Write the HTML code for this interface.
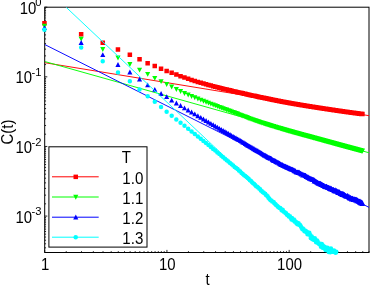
<!DOCTYPE html>
<html><head><meta charset="utf-8"><title>C(t)</title>
<style>html,body{margin:0;padding:0;background:#fff;overflow:hidden}body{width:382px;height:289px;position:relative;font-family:"Liberation Sans",sans-serif}</style>
</head><body>
<svg width="382" height="289" viewBox="0 0 382 289" style="position:absolute;left:0;top:0;will-change:transform">
<rect width="382" height="289" fill="#fff"/>
<rect x="44.7" y="7.2" width="324.3" height="245.3" fill="none" stroke="#000" stroke-width="1"/>
<path d="M44.70 252.5v-2.6M66.22 252.5v-1.35M81.49 252.5v-1.35M93.34 252.5v-1.35M103.02 252.5v-1.35M111.20 252.5v-1.35M118.29 252.5v-1.35M124.54 252.5v-1.35M130.13 252.5v-1.35M135.19 252.5v-1.35M139.81 252.5v-1.35M144.06 252.5v-1.35M148.00 252.5v-1.35M151.66 252.5v-1.35M155.08 252.5v-1.35M158.30 252.5v-1.35M161.34 252.5v-1.35M164.21 252.5v-1.35M166.93 252.5v-2.6M188.45 252.5v-1.35M203.72 252.5v-1.35M215.57 252.5v-1.35M225.25 252.5v-1.35M233.43 252.5v-1.35M240.52 252.5v-1.35M246.77 252.5v-1.35M252.36 252.5v-1.35M257.42 252.5v-1.35M262.04 252.5v-1.35M266.29 252.5v-1.35M270.22 252.5v-1.35M273.89 252.5v-1.35M277.31 252.5v-1.35M280.53 252.5v-1.35M283.57 252.5v-1.35M286.44 252.5v-1.35M289.16 252.5v-2.6M310.68 252.5v-1.35M325.95 252.5v-1.35M337.80 252.5v-1.35M347.48 252.5v-1.35M355.66 252.5v-1.35M362.75 252.5v-1.35M369.00 252.5v-1.35M44.7 7.20h2.6M44.7 8.75h1.35M44.7 10.39h1.35M44.7 12.11h1.35M44.7 13.95h1.35M44.7 15.90h1.35M44.7 17.99h1.35M44.7 20.23h1.35M44.7 22.65h1.35M44.7 25.28h1.35M44.7 28.16h1.35M44.7 31.35h1.35M44.7 34.91h1.35M44.7 38.95h1.35M44.7 43.61h1.35M44.7 49.12h1.35M44.7 55.87h1.35M44.7 64.57h1.35M44.7 76.83h2.6M44.7 78.38h1.35M44.7 80.02h1.35M44.7 81.75h1.35M44.7 83.58h1.35M44.7 85.53h1.35M44.7 87.62h1.35M44.7 89.86h1.35M44.7 92.28h1.35M44.7 94.91h1.35M44.7 97.79h1.35M44.7 100.98h1.35M44.7 104.54h1.35M44.7 108.58h1.35M44.7 113.24h1.35M44.7 118.75h1.35M44.7 125.50h1.35M44.7 134.20h1.35M44.7 146.46h2.6M44.7 148.01h1.35M44.7 149.65h1.35M44.7 151.38h1.35M44.7 153.21h1.35M44.7 155.16h1.35M44.7 157.25h1.35M44.7 159.49h1.35M44.7 161.91h1.35M44.7 164.54h1.35M44.7 167.42h1.35M44.7 170.61h1.35M44.7 174.17h1.35M44.7 178.21h1.35M44.7 182.87h1.35M44.7 188.38h1.35M44.7 195.13h1.35M44.7 203.83h1.35M44.7 216.09h2.6M44.7 217.64h1.35M44.7 219.28h1.35M44.7 221.01h1.35M44.7 222.84h1.35M44.7 224.79h1.35M44.7 226.88h1.35M44.7 229.12h1.35M44.7 231.54h1.35M44.7 234.17h1.35M44.7 237.05h1.35M44.7 240.24h1.35M44.7 243.80h1.35M44.7 247.84h1.35" stroke="#000" stroke-width="0.85" fill="none"/>
<clipPath id="c"><rect x="44.7" y="7.2" width="324.3" height="245.3"/></clipPath>
<path d="M42.2 20.9h4.5v4.5h-4.5zM78.9 31.9h4.5v4.5h-4.5zM100.5 40.4h4.5v4.5h-4.5zM115.7 47.2h4.5v4.5h-4.5zM127.6 52.4h4.5v4.5h-4.5zM137.3 57.1h4.5v4.5h-4.5zM145.4 61.0h4.5v4.5h-4.5zM152.5 63.8h4.5v4.5h-4.5zM158.8 66.6h4.5v4.5h-4.5zM164.4 68.8h4.5v4.5h-4.5zM169.4 70.6h4.5v4.5h-4.5zM174.1 72.3h4.5v4.5h-4.5zM178.3 73.9h4.5v4.5h-4.5zM182.2 75.3h4.5v4.5h-4.5zM185.9 76.6h4.5v4.5h-4.5zM189.3 77.7h4.5v4.5h-4.5zM192.5 78.7h4.5v4.5h-4.5zM195.6 79.7h4.5v4.5h-4.5zM198.5 80.5h4.5v4.5h-4.5zM201.2 81.3h4.5v4.5h-4.5zM203.8 82.0h4.5v4.5h-4.5zM206.2 82.7h4.5v4.5h-4.5zM208.6 83.3h4.5v4.5h-4.5zM210.9 83.9h4.5v4.5h-4.5zM213.0 84.5h4.5v4.5h-4.5zM215.1 85.0h4.5v4.5h-4.5zM217.1 85.5h4.5v4.5h-4.5zM219.0 86.0h4.5v4.5h-4.5zM220.9 86.5h4.5v4.5h-4.5zM222.7 86.9h4.5v4.5h-4.5zM224.4 87.3h4.5v4.5h-4.5zM226.1 87.7h4.5v4.5h-4.5zM227.8 88.1h4.5v4.5h-4.5zM229.3 88.5h4.5v4.5h-4.5zM230.9 88.9h4.5v4.5h-4.5zM232.4 89.2h4.5v4.5h-4.5zM233.8 89.6h4.5v4.5h-4.5zM235.2 89.9h4.5v4.5h-4.5zM236.6 90.2h4.5v4.5h-4.5zM238.0 90.5h4.5v4.5h-4.5zM239.3 90.8h4.5v4.5h-4.5zM240.6 91.1h4.5v4.5h-4.5zM241.8 91.4h4.5v4.5h-4.5zM243.0 91.6h4.5v4.5h-4.5zM244.2 91.9h4.5v4.5h-4.5zM245.4 92.2h4.5v4.5h-4.5zM246.5 92.4h4.5v4.5h-4.5zM247.6 92.7h4.5v4.5h-4.5zM248.7 92.9h4.5v4.5h-4.5zM249.8 93.2h4.5v4.5h-4.5zM250.9 93.4h4.5v4.5h-4.5zM251.9 93.6h4.5v4.5h-4.5zM252.9 93.8h4.5v4.5h-4.5zM253.9 94.0h4.5v4.5h-4.5zM254.9 94.3h4.5v4.5h-4.5zM255.8 94.5h4.5v4.5h-4.5zM256.8 94.7h4.5v4.5h-4.5zM257.7 94.9h4.5v4.5h-4.5zM258.6 95.1h4.5v4.5h-4.5zM259.5 95.2h4.5v4.5h-4.5zM260.4 95.4h4.5v4.5h-4.5zM261.2 95.6h4.5v4.5h-4.5zM262.1 95.8h4.5v4.5h-4.5zM262.9 96.0h4.5v4.5h-4.5zM263.7 96.1h4.5v4.5h-4.5zM264.6 96.3h4.5v4.5h-4.5zM265.3 96.5h4.5v4.5h-4.5zM266.1 96.6h4.5v4.5h-4.5zM266.9 96.8h4.5v4.5h-4.5zM267.7 97.0h4.5v4.5h-4.5zM268.4 97.1h4.5v4.5h-4.5zM269.2 97.3h4.5v4.5h-4.5zM269.9 97.4h4.5v4.5h-4.5zM270.6 97.6h4.5v4.5h-4.5zM271.3 97.7h4.5v4.5h-4.5zM272.0 97.8h4.5v4.5h-4.5zM272.7 98.0h4.5v4.5h-4.5zM273.4 98.1h4.5v4.5h-4.5zM274.1 98.2h4.5v4.5h-4.5zM274.8 98.4h4.5v4.5h-4.5zM275.4 98.5h4.5v4.5h-4.5zM276.1 98.6h4.5v4.5h-4.5zM276.7 98.8h4.5v4.5h-4.5zM277.4 98.9h4.5v4.5h-4.5zM278.0 99.0h4.5v4.5h-4.5zM278.6 99.1h4.5v4.5h-4.5zM279.2 99.2h4.5v4.5h-4.5zM279.8 99.4h4.5v4.5h-4.5zM280.4 99.5h4.5v4.5h-4.5zM281.0 99.6h4.5v4.5h-4.5zM281.6 99.7h4.5v4.5h-4.5zM282.2 99.8h4.5v4.5h-4.5zM282.8 99.9h4.5v4.5h-4.5zM283.3 100.0h4.5v4.5h-4.5zM283.9 100.1h4.5v4.5h-4.5zM284.4 100.2h4.5v4.5h-4.5zM285.0 100.3h4.5v4.5h-4.5zM285.5 100.4h4.5v4.5h-4.5zM286.1 100.5h4.5v4.5h-4.5zM286.6 100.6h4.5v4.5h-4.5zM287.1 100.7h4.5v4.5h-4.5zM287.7 100.8h4.5v4.5h-4.5zM288.2 100.9h4.5v4.5h-4.5zM288.7 101.0h4.5v4.5h-4.5zM289.2 101.1h4.5v4.5h-4.5zM289.7 101.2h4.5v4.5h-4.5zM290.2 101.2h4.5v4.5h-4.5zM290.7 101.3h4.5v4.5h-4.5zM291.2 101.4h4.5v4.5h-4.5zM291.7 101.5h4.5v4.5h-4.5zM292.1 101.6h4.5v4.5h-4.5zM292.6 101.7h4.5v4.5h-4.5zM293.1 101.8h4.5v4.5h-4.5zM293.6 101.8h4.5v4.5h-4.5zM294.0 101.9h4.5v4.5h-4.5zM294.5 102.0h4.5v4.5h-4.5zM294.9 102.1h4.5v4.5h-4.5zM295.4 102.1h4.5v4.5h-4.5zM295.8 102.2h4.5v4.5h-4.5zM296.3 102.3h4.5v4.5h-4.5zM296.7 102.4h4.5v4.5h-4.5zM297.2 102.4h4.5v4.5h-4.5zM297.6 102.5h4.5v4.5h-4.5zM298.0 102.6h4.5v4.5h-4.5zM298.5 102.7h4.5v4.5h-4.5zM298.9 102.7h4.5v4.5h-4.5zM299.3 102.8h4.5v4.5h-4.5zM299.7 102.9h4.5v4.5h-4.5zM300.1 102.9h4.5v4.5h-4.5zM300.5 103.0h4.5v4.5h-4.5zM300.9 103.1h4.5v4.5h-4.5zM301.3 103.1h4.5v4.5h-4.5zM301.7 103.2h4.5v4.5h-4.5zM302.1 103.3h4.5v4.5h-4.5zM302.5 103.3h4.5v4.5h-4.5zM302.9 103.4h4.5v4.5h-4.5zM303.3 103.5h4.5v4.5h-4.5zM303.7 103.5h4.5v4.5h-4.5zM304.1 103.6h4.5v4.5h-4.5zM304.5 103.7h4.5v4.5h-4.5zM304.8 103.7h4.5v4.5h-4.5zM305.2 103.8h4.5v4.5h-4.5zM305.6 103.8h4.5v4.5h-4.5zM306.0 103.9h4.5v4.5h-4.5zM306.3 104.0h4.5v4.5h-4.5zM306.7 104.0h4.5v4.5h-4.5zM307.1 104.1h4.5v4.5h-4.5zM307.4 104.1h4.5v4.5h-4.5zM307.8 104.2h4.5v4.5h-4.5zM308.1 104.2h4.5v4.5h-4.5zM308.5 104.3h4.5v4.5h-4.5zM308.8 104.4h4.5v4.5h-4.5zM309.2 104.4h4.5v4.5h-4.5zM309.5 104.5h4.5v4.5h-4.5zM309.9 104.5h4.5v4.5h-4.5zM310.2 104.6h4.5v4.5h-4.5zM310.6 104.6h4.5v4.5h-4.5zM310.9 104.7h4.5v4.5h-4.5zM311.2 104.7h4.5v4.5h-4.5zM311.6 104.8h4.5v4.5h-4.5zM311.9 104.8h4.5v4.5h-4.5zM312.2 104.9h4.5v4.5h-4.5zM312.5 104.9h4.5v4.5h-4.5zM312.9 105.0h4.5v4.5h-4.5zM313.2 105.0h4.5v4.5h-4.5zM313.5 105.1h4.5v4.5h-4.5zM313.8 105.1h4.5v4.5h-4.5zM314.1 105.2h4.5v4.5h-4.5zM314.5 105.2h4.5v4.5h-4.5zM314.8 105.3h4.5v4.5h-4.5zM315.1 105.3h4.5v4.5h-4.5zM315.4 105.4h4.5v4.5h-4.5zM315.7 105.4h4.5v4.5h-4.5zM316.0 105.5h4.5v4.5h-4.5zM316.3 105.5h4.5v4.5h-4.5zM316.6 105.6h4.5v4.5h-4.5zM316.9 105.6h4.5v4.5h-4.5zM317.2 105.7h4.5v4.5h-4.5zM317.5 105.7h4.5v4.5h-4.5zM317.8 105.8h4.5v4.5h-4.5zM318.1 105.8h4.5v4.5h-4.5zM318.4 105.8h4.5v4.5h-4.5zM318.7 105.9h4.5v4.5h-4.5zM319.0 105.9h4.5v4.5h-4.5zM319.3 106.0h4.5v4.5h-4.5zM319.6 106.0h4.5v4.5h-4.5zM319.8 106.1h4.5v4.5h-4.5zM320.1 106.1h4.5v4.5h-4.5zM320.4 106.2h4.5v4.5h-4.5zM320.7 106.2h4.5v4.5h-4.5zM321.0 106.2h4.5v4.5h-4.5zM321.2 106.3h4.5v4.5h-4.5zM321.5 106.3h4.5v4.5h-4.5zM321.8 106.4h4.5v4.5h-4.5zM322.1 106.4h4.5v4.5h-4.5zM322.3 106.4h4.5v4.5h-4.5zM322.6 106.5h4.5v4.5h-4.5zM322.9 106.5h4.5v4.5h-4.5zM323.1 106.6h4.5v4.5h-4.5zM323.4 106.6h4.5v4.5h-4.5zM323.7 106.6h4.5v4.5h-4.5zM323.9 106.7h4.5v4.5h-4.5zM324.2 106.7h4.5v4.5h-4.5zM324.5 106.8h4.5v4.5h-4.5zM324.7 106.8h4.5v4.5h-4.5zM325.0 106.8h4.5v4.5h-4.5zM325.2 106.9h4.5v4.5h-4.5zM325.5 106.9h4.5v4.5h-4.5zM325.7 107.0h4.5v4.5h-4.5zM326.0 107.0h4.5v4.5h-4.5zM326.2 107.0h4.5v4.5h-4.5zM326.5 107.1h4.5v4.5h-4.5zM326.7 107.1h4.5v4.5h-4.5zM327.0 107.1h4.5v4.5h-4.5zM327.2 107.2h4.5v4.5h-4.5zM327.5 107.2h4.5v4.5h-4.5zM327.7 107.3h4.5v4.5h-4.5zM328.0 107.3h4.5v4.5h-4.5zM328.2 107.3h4.5v4.5h-4.5zM328.5 107.4h4.5v4.5h-4.5zM328.7 107.4h4.5v4.5h-4.5zM328.9 107.4h4.5v4.5h-4.5zM329.2 107.5h4.5v4.5h-4.5zM329.4 107.5h4.5v4.5h-4.5zM329.7 107.5h4.5v4.5h-4.5zM329.9 107.6h4.5v4.5h-4.5zM330.1 107.6h4.5v4.5h-4.5zM330.4 107.6h4.5v4.5h-4.5zM330.6 107.7h4.5v4.5h-4.5zM330.8 107.7h4.5v4.5h-4.5zM331.1 107.8h4.5v4.5h-4.5zM331.3 107.8h4.5v4.5h-4.5zM331.5 107.8h4.5v4.5h-4.5zM331.7 107.9h4.5v4.5h-4.5zM332.0 107.9h4.5v4.5h-4.5zM332.2 107.9h4.5v4.5h-4.5zM332.4 108.0h4.5v4.5h-4.5zM332.6 108.0h4.5v4.5h-4.5zM332.9 108.0h4.5v4.5h-4.5zM333.1 108.1h4.5v4.5h-4.5zM333.3 108.1h4.5v4.5h-4.5zM333.5 108.1h4.5v4.5h-4.5zM333.7 108.1h4.5v4.5h-4.5zM334.0 108.2h4.5v4.5h-4.5zM334.2 108.2h4.5v4.5h-4.5zM334.4 108.2h4.5v4.5h-4.5zM334.6 108.3h4.5v4.5h-4.5zM334.8 108.3h4.5v4.5h-4.5zM335.0 108.3h4.5v4.5h-4.5zM335.2 108.4h4.5v4.5h-4.5zM335.5 108.4h4.5v4.5h-4.5zM335.7 108.4h4.5v4.5h-4.5zM335.9 108.5h4.5v4.5h-4.5zM336.1 108.5h4.5v4.5h-4.5zM336.3 108.5h4.5v4.5h-4.5zM336.5 108.6h4.5v4.5h-4.5zM336.7 108.6h4.5v4.5h-4.5zM336.9 108.6h4.5v4.5h-4.5zM337.1 108.6h4.5v4.5h-4.5zM337.3 108.7h4.5v4.5h-4.5zM337.5 108.7h4.5v4.5h-4.5zM337.7 108.7h4.5v4.5h-4.5zM337.9 108.8h4.5v4.5h-4.5zM338.1 108.8h4.5v4.5h-4.5zM338.3 108.8h4.5v4.5h-4.5zM338.5 108.8h4.5v4.5h-4.5zM338.7 108.9h4.5v4.5h-4.5zM338.9 108.9h4.5v4.5h-4.5zM339.1 108.9h4.5v4.5h-4.5zM339.3 109.0h4.5v4.5h-4.5zM339.5 109.0h4.5v4.5h-4.5zM339.7 109.0h4.5v4.5h-4.5zM339.9 109.0h4.5v4.5h-4.5zM340.1 109.1h4.5v4.5h-4.5zM340.3 109.1h4.5v4.5h-4.5zM340.5 109.1h4.5v4.5h-4.5zM340.7 109.2h4.5v4.5h-4.5zM340.9 109.2h4.5v4.5h-4.5zM341.1 109.2h4.5v4.5h-4.5zM341.3 109.2h4.5v4.5h-4.5zM341.5 109.3h4.5v4.5h-4.5zM341.6 109.3h4.5v4.5h-4.5zM341.8 109.3h4.5v4.5h-4.5zM342.0 109.3h4.5v4.5h-4.5zM342.2 109.4h4.5v4.5h-4.5zM342.4 109.4h4.5v4.5h-4.5zM342.6 109.4h4.5v4.5h-4.5zM342.8 109.4h4.5v4.5h-4.5zM342.9 109.5h4.5v4.5h-4.5zM343.1 109.5h4.5v4.5h-4.5zM343.3 109.5h4.5v4.5h-4.5zM343.5 109.5h4.5v4.5h-4.5zM343.7 109.6h4.5v4.5h-4.5zM343.9 109.6h4.5v4.5h-4.5zM344.0 109.6h4.5v4.5h-4.5zM344.2 109.7h4.5v4.5h-4.5zM344.4 109.7h4.5v4.5h-4.5zM344.6 109.7h4.5v4.5h-4.5zM344.7 109.7h4.5v4.5h-4.5zM344.9 109.8h4.5v4.5h-4.5zM345.1 109.8h4.5v4.5h-4.5zM345.3 109.8h4.5v4.5h-4.5zM345.5 109.8h4.5v4.5h-4.5zM345.6 109.8h4.5v4.5h-4.5zM345.8 109.9h4.5v4.5h-4.5zM346.0 109.9h4.5v4.5h-4.5zM346.2 109.9h4.5v4.5h-4.5zM346.3 109.9h4.5v4.5h-4.5zM346.5 110.0h4.5v4.5h-4.5zM346.7 110.0h4.5v4.5h-4.5zM346.8 110.0h4.5v4.5h-4.5zM347.0 110.0h4.5v4.5h-4.5zM347.2 110.1h4.5v4.5h-4.5zM347.3 110.1h4.5v4.5h-4.5zM347.5 110.1h4.5v4.5h-4.5zM347.7 110.1h4.5v4.5h-4.5zM347.9 110.2h4.5v4.5h-4.5zM348.0 110.2h4.5v4.5h-4.5zM348.2 110.2h4.5v4.5h-4.5zM348.4 110.2h4.5v4.5h-4.5zM348.5 110.2h4.5v4.5h-4.5zM348.7 110.3h4.5v4.5h-4.5zM348.8 110.3h4.5v4.5h-4.5zM349.0 110.3h4.5v4.5h-4.5zM349.2 110.3h4.5v4.5h-4.5zM349.3 110.4h4.5v4.5h-4.5zM349.5 110.4h4.5v4.5h-4.5zM349.7 110.4h4.5v4.5h-4.5zM349.8 110.4h4.5v4.5h-4.5zM350.0 110.4h4.5v4.5h-4.5zM350.1 110.5h4.5v4.5h-4.5zM350.3 110.5h4.5v4.5h-4.5zM350.5 110.5h4.5v4.5h-4.5zM350.6 110.5h4.5v4.5h-4.5zM350.8 110.6h4.5v4.5h-4.5zM350.9 110.6h4.5v4.5h-4.5zM351.1 110.6h4.5v4.5h-4.5zM351.3 110.6h4.5v4.5h-4.5zM351.4 110.6h4.5v4.5h-4.5zM351.6 110.7h4.5v4.5h-4.5zM351.7 110.7h4.5v4.5h-4.5zM351.9 110.7h4.5v4.5h-4.5zM352.0 110.7h4.5v4.5h-4.5zM352.2 110.7h4.5v4.5h-4.5zM352.3 110.8h4.5v4.5h-4.5zM352.5 110.8h4.5v4.5h-4.5zM352.7 110.8h4.5v4.5h-4.5zM352.8 110.8h4.5v4.5h-4.5zM353.0 110.8h4.5v4.5h-4.5zM353.1 110.9h4.5v4.5h-4.5zM353.3 110.9h4.5v4.5h-4.5zM353.4 110.9h4.5v4.5h-4.5zM353.6 110.9h4.5v4.5h-4.5zM353.7 110.9h4.5v4.5h-4.5zM353.9 111.0h4.5v4.5h-4.5zM354.0 111.0h4.5v4.5h-4.5zM354.2 111.0h4.5v4.5h-4.5zM354.3 111.0h4.5v4.5h-4.5zM354.5 111.0h4.5v4.5h-4.5zM354.6 111.1h4.5v4.5h-4.5zM354.8 111.1h4.5v4.5h-4.5zM354.9 111.1h4.5v4.5h-4.5zM355.0 111.1h4.5v4.5h-4.5zM355.2 111.1h4.5v4.5h-4.5zM355.3 111.2h4.5v4.5h-4.5zM355.5 111.2h4.5v4.5h-4.5zM355.6 111.2h4.5v4.5h-4.5zM355.8 111.2h4.5v4.5h-4.5zM355.9 111.2h4.5v4.5h-4.5zM356.1 111.3h4.5v4.5h-4.5zM356.2 111.3h4.5v4.5h-4.5zM356.3 111.3h4.5v4.5h-4.5zM356.5 111.3h4.5v4.5h-4.5zM356.6 111.3h4.5v4.5h-4.5zM356.8 111.4h4.5v4.5h-4.5zM356.9 111.4h4.5v4.5h-4.5zM357.1 111.4h4.5v4.5h-4.5zM357.2 111.4h4.5v4.5h-4.5zM357.3 111.4h4.5v4.5h-4.5zM357.5 111.4h4.5v4.5h-4.5zM357.6 111.5h4.5v4.5h-4.5zM357.8 111.5h4.5v4.5h-4.5zM357.9 111.5h4.5v4.5h-4.5zM358.0 111.5h4.5v4.5h-4.5zM358.2 111.5h4.5v4.5h-4.5zM358.3 111.6h4.5v4.5h-4.5zM358.4 111.6h4.5v4.5h-4.5zM358.6 111.6h4.5v4.5h-4.5zM358.7 111.6h4.5v4.5h-4.5zM358.9 111.6h4.5v4.5h-4.5zM359.0 111.6h4.5v4.5h-4.5zM359.1 111.7h4.5v4.5h-4.5zM359.3 111.7h4.5v4.5h-4.5zM359.4 111.7h4.5v4.5h-4.5zM359.5 111.7h4.5v4.5h-4.5zM359.7 111.7h4.5v4.5h-4.5zM359.8 111.8h4.5v4.5h-4.5zM359.9 111.8h4.5v4.5h-4.5zM360.1 111.8h4.5v4.5h-4.5zM360.2 111.8h4.5v4.5h-4.5z" fill="#ff0000"/>
<path clip-path="url(#c)" d="M44.7 62.7L369.1 115.7" stroke="#ff0000" stroke-width="0.95" fill="none"/>
<path d="M41.9 23.8h5.1l-2.5 4.9zM78.6 36.7h5.1l-2.5 4.9zM100.2 47.1h5.1l-2.5 4.9zM115.4 55.5h5.1l-2.5 4.9zM127.3 62.1h5.1l-2.5 4.9zM137.0 67.7h5.1l-2.5 4.9zM145.1 71.9h5.1l-2.5 4.9zM152.2 75.9h5.1l-2.5 4.9zM158.5 79.2h5.1l-2.5 4.9zM164.1 82.1h5.1l-2.5 4.9zM169.1 84.6h5.1l-2.5 4.9zM173.8 87.0h5.1l-2.5 4.9zM178.0 89.1h5.1l-2.5 4.9zM181.9 91.0h5.1l-2.5 4.9zM185.6 92.6h5.1l-2.5 4.9zM189.0 94.0h5.1l-2.5 4.9zM192.2 95.3h5.1l-2.5 4.9zM195.3 96.6h5.1l-2.5 4.9zM198.2 97.7h5.1l-2.5 4.9zM200.9 98.8h5.1l-2.5 4.9zM203.5 99.8h5.1l-2.5 4.9zM205.9 100.7h5.1l-2.5 4.9zM208.3 101.7h5.1l-2.5 4.9zM210.6 102.5h5.1l-2.5 4.9zM212.7 103.3h5.1l-2.5 4.9zM214.8 104.1h5.1l-2.5 4.9zM216.8 104.9h5.1l-2.5 4.9zM218.7 105.6h5.1l-2.5 4.9zM220.6 106.3h5.1l-2.5 4.9zM222.4 106.9h5.1l-2.5 4.9zM224.1 107.6h5.1l-2.5 4.9zM225.8 108.2h5.1l-2.5 4.9zM227.5 108.8h5.1l-2.5 4.9zM229.0 109.4h5.1l-2.5 4.9zM230.6 110.0h5.1l-2.5 4.9zM232.1 110.5h5.1l-2.5 4.9zM233.5 111.1h5.1l-2.5 4.9zM234.9 111.6h5.1l-2.5 4.9zM236.3 112.2h5.1l-2.5 4.9zM237.7 112.7h5.1l-2.5 4.9zM239.0 113.2h5.1l-2.5 4.9zM240.3 113.7h5.1l-2.5 4.9zM241.5 114.2h5.1l-2.5 4.9zM242.7 114.6h5.1l-2.5 4.9zM243.9 115.1h5.1l-2.5 4.9zM245.1 115.5h5.1l-2.5 4.9zM246.2 116.0h5.1l-2.5 4.9zM247.3 116.4h5.1l-2.5 4.9zM248.4 116.8h5.1l-2.5 4.9zM249.5 117.2h5.1l-2.5 4.9zM250.6 117.5h5.1l-2.5 4.9zM251.6 117.9h5.1l-2.5 4.9zM252.6 118.3h5.1l-2.5 4.9zM253.6 118.6h5.1l-2.5 4.9zM254.6 118.9h5.1l-2.5 4.9zM255.5 119.3h5.1l-2.5 4.9zM256.5 119.6h5.1l-2.5 4.9zM257.4 119.9h5.1l-2.5 4.9zM258.3 120.2h5.1l-2.5 4.9zM259.2 120.5h5.1l-2.5 4.9zM260.1 120.7h5.1l-2.5 4.9zM260.9 121.0h5.1l-2.5 4.9zM261.8 121.3h5.1l-2.5 4.9zM262.6 121.6h5.1l-2.5 4.9zM263.4 121.8h5.1l-2.5 4.9zM264.3 122.1h5.1l-2.5 4.9zM265.0 122.3h5.1l-2.5 4.9zM265.8 122.6h5.1l-2.5 4.9zM266.6 122.8h5.1l-2.5 4.9zM267.4 123.0h5.1l-2.5 4.9zM268.1 123.3h5.1l-2.5 4.9zM268.9 123.5h5.1l-2.5 4.9zM269.6 123.7h5.1l-2.5 4.9zM270.3 123.9h5.1l-2.5 4.9zM271.0 124.1h5.1l-2.5 4.9zM271.7 124.4h5.1l-2.5 4.9zM272.4 124.6h5.1l-2.5 4.9zM273.1 124.8h5.1l-2.5 4.9zM273.8 125.0h5.1l-2.5 4.9zM274.5 125.2h5.1l-2.5 4.9zM275.1 125.4h5.1l-2.5 4.9zM275.8 125.6h5.1l-2.5 4.9zM276.4 125.7h5.1l-2.5 4.9zM277.1 125.9h5.1l-2.5 4.9zM277.7 126.1h5.1l-2.5 4.9zM278.3 126.3h5.1l-2.5 4.9zM278.9 126.5h5.1l-2.5 4.9zM279.5 126.7h5.1l-2.5 4.9zM280.1 126.8h5.1l-2.5 4.9zM280.7 127.0h5.1l-2.5 4.9zM281.3 127.2h5.1l-2.5 4.9zM281.9 127.3h5.1l-2.5 4.9zM282.5 127.5h5.1l-2.5 4.9zM283.0 127.7h5.1l-2.5 4.9zM283.6 127.8h5.1l-2.5 4.9zM284.1 128.0h5.1l-2.5 4.9zM284.7 128.2h5.1l-2.5 4.9zM285.2 128.3h5.1l-2.5 4.9zM285.8 128.5h5.1l-2.5 4.9zM286.3 128.6h5.1l-2.5 4.9zM286.8 128.8h5.1l-2.5 4.9zM287.4 128.9h5.1l-2.5 4.9zM287.9 129.1h5.1l-2.5 4.9zM288.4 129.2h5.1l-2.5 4.9zM288.9 129.3h5.1l-2.5 4.9zM289.4 129.5h5.1l-2.5 4.9zM289.9 129.6h5.1l-2.5 4.9zM290.4 129.8h5.1l-2.5 4.9zM290.9 129.9h5.1l-2.5 4.9zM291.4 130.0h5.1l-2.5 4.9zM291.8 130.2h5.1l-2.5 4.9zM292.3 130.3h5.1l-2.5 4.9zM292.8 130.4h5.1l-2.5 4.9zM293.3 130.6h5.1l-2.5 4.9zM293.7 130.7h5.1l-2.5 4.9zM294.2 130.8h5.1l-2.5 4.9zM294.6 130.9h5.1l-2.5 4.9zM295.1 131.1h5.1l-2.5 4.9zM295.5 131.2h5.1l-2.5 4.9zM296.0 131.3h5.1l-2.5 4.9zM296.4 131.4h5.1l-2.5 4.9zM296.9 131.5h5.1l-2.5 4.9zM297.3 131.7h5.1l-2.5 4.9zM297.7 131.8h5.1l-2.5 4.9zM298.2 131.9h5.1l-2.5 4.9zM298.6 132.0h5.1l-2.5 4.9zM299.0 132.1h5.1l-2.5 4.9zM299.4 132.2h5.1l-2.5 4.9zM299.8 132.4h5.1l-2.5 4.9zM300.2 132.5h5.1l-2.5 4.9zM300.6 132.6h5.1l-2.5 4.9zM301.0 132.7h5.1l-2.5 4.9zM301.4 132.8h5.1l-2.5 4.9zM301.8 132.9h5.1l-2.5 4.9zM302.2 133.0h5.1l-2.5 4.9zM302.6 133.1h5.1l-2.5 4.9zM303.0 133.2h5.1l-2.5 4.9zM303.4 133.3h5.1l-2.5 4.9zM303.8 133.4h5.1l-2.5 4.9zM304.2 133.5h5.1l-2.5 4.9zM304.5 133.6h5.1l-2.5 4.9zM304.9 133.7h5.1l-2.5 4.9zM305.3 133.8h5.1l-2.5 4.9zM305.7 133.9h5.1l-2.5 4.9zM306.0 134.0h5.1l-2.5 4.9zM306.4 134.1h5.1l-2.5 4.9zM306.8 134.2h5.1l-2.5 4.9zM307.1 134.3h5.1l-2.5 4.9zM307.5 134.4h5.1l-2.5 4.9zM307.8 134.5h5.1l-2.5 4.9zM308.2 134.6h5.1l-2.5 4.9zM308.5 134.7h5.1l-2.5 4.9zM308.9 134.8h5.1l-2.5 4.9zM309.2 134.9h5.1l-2.5 4.9zM309.6 135.0h5.1l-2.5 4.9zM309.9 135.1h5.1l-2.5 4.9zM310.3 135.2h5.1l-2.5 4.9zM310.6 135.3h5.1l-2.5 4.9zM310.9 135.4h5.1l-2.5 4.9zM311.3 135.5h5.1l-2.5 4.9zM311.6 135.6h5.1l-2.5 4.9zM311.9 135.6h5.1l-2.5 4.9zM312.2 135.7h5.1l-2.5 4.9zM312.6 135.8h5.1l-2.5 4.9zM312.9 135.9h5.1l-2.5 4.9zM313.2 136.0h5.1l-2.5 4.9zM313.5 136.1h5.1l-2.5 4.9zM313.8 136.2h5.1l-2.5 4.9zM314.2 136.3h5.1l-2.5 4.9zM314.5 136.3h5.1l-2.5 4.9zM314.8 136.4h5.1l-2.5 4.9zM315.1 136.5h5.1l-2.5 4.9zM315.4 136.6h5.1l-2.5 4.9zM315.7 136.7h5.1l-2.5 4.9zM316.0 136.8h5.1l-2.5 4.9zM316.3 136.8h5.1l-2.5 4.9zM316.6 136.9h5.1l-2.5 4.9zM316.9 137.0h5.1l-2.5 4.9zM317.2 137.1h5.1l-2.5 4.9zM317.5 137.2h5.1l-2.5 4.9zM317.8 137.2h5.1l-2.5 4.9zM318.1 137.3h5.1l-2.5 4.9zM318.4 137.4h5.1l-2.5 4.9zM318.7 137.5h5.1l-2.5 4.9zM319.0 137.6h5.1l-2.5 4.9zM319.3 137.6h5.1l-2.5 4.9zM319.5 137.7h5.1l-2.5 4.9zM319.8 137.8h5.1l-2.5 4.9zM320.1 137.9h5.1l-2.5 4.9zM320.4 138.0h5.1l-2.5 4.9zM320.7 138.0h5.1l-2.5 4.9zM320.9 138.1h5.1l-2.5 4.9zM321.2 138.2h5.1l-2.5 4.9zM321.5 138.3h5.1l-2.5 4.9zM321.8 138.3h5.1l-2.5 4.9zM322.0 138.4h5.1l-2.5 4.9zM322.3 138.5h5.1l-2.5 4.9zM322.6 138.6h5.1l-2.5 4.9zM322.8 138.6h5.1l-2.5 4.9zM323.1 138.7h5.1l-2.5 4.9zM323.4 138.8h5.1l-2.5 4.9zM323.6 138.8h5.1l-2.5 4.9zM323.9 138.9h5.1l-2.5 4.9zM324.2 139.0h5.1l-2.5 4.9zM324.4 139.1h5.1l-2.5 4.9zM324.7 139.1h5.1l-2.5 4.9zM324.9 139.2h5.1l-2.5 4.9zM325.2 139.3h5.1l-2.5 4.9zM325.4 139.3h5.1l-2.5 4.9zM325.7 139.4h5.1l-2.5 4.9zM325.9 139.5h5.1l-2.5 4.9zM326.2 139.5h5.1l-2.5 4.9zM326.4 139.6h5.1l-2.5 4.9zM326.7 139.7h5.1l-2.5 4.9zM326.9 139.7h5.1l-2.5 4.9zM327.2 139.8h5.1l-2.5 4.9zM327.4 139.9h5.1l-2.5 4.9zM327.7 139.9h5.1l-2.5 4.9zM327.9 140.0h5.1l-2.5 4.9zM328.2 140.1h5.1l-2.5 4.9zM328.4 140.1h5.1l-2.5 4.9zM328.6 140.2h5.1l-2.5 4.9zM328.9 140.3h5.1l-2.5 4.9zM329.1 140.3h5.1l-2.5 4.9zM329.4 140.4h5.1l-2.5 4.9zM329.6 140.5h5.1l-2.5 4.9zM329.8 140.5h5.1l-2.5 4.9zM330.1 140.6h5.1l-2.5 4.9zM330.3 140.7h5.1l-2.5 4.9zM330.5 140.7h5.1l-2.5 4.9zM330.8 140.8h5.1l-2.5 4.9zM331.0 140.8h5.1l-2.5 4.9zM331.2 140.9h5.1l-2.5 4.9zM331.4 141.0h5.1l-2.5 4.9zM331.7 141.0h5.1l-2.5 4.9zM331.9 141.1h5.1l-2.5 4.9zM332.1 141.2h5.1l-2.5 4.9zM332.3 141.2h5.1l-2.5 4.9zM332.6 141.3h5.1l-2.5 4.9zM332.8 141.3h5.1l-2.5 4.9zM333.0 141.4h5.1l-2.5 4.9zM333.2 141.5h5.1l-2.5 4.9zM333.4 141.5h5.1l-2.5 4.9zM333.7 141.6h5.1l-2.5 4.9zM333.9 141.6h5.1l-2.5 4.9zM334.1 141.7h5.1l-2.5 4.9zM334.3 141.8h5.1l-2.5 4.9zM334.5 141.8h5.1l-2.5 4.9zM334.7 141.9h5.1l-2.5 4.9zM334.9 141.9h5.1l-2.5 4.9zM335.2 142.0h5.1l-2.5 4.9zM335.4 142.0h5.1l-2.5 4.9zM335.6 142.1h5.1l-2.5 4.9zM335.8 142.2h5.1l-2.5 4.9zM336.0 142.2h5.1l-2.5 4.9zM336.2 142.3h5.1l-2.5 4.9zM336.4 142.3h5.1l-2.5 4.9zM336.6 142.4h5.1l-2.5 4.9zM336.8 142.4h5.1l-2.5 4.9zM337.0 142.5h5.1l-2.5 4.9zM337.2 142.5h5.1l-2.5 4.9zM337.4 142.6h5.1l-2.5 4.9zM337.6 142.7h5.1l-2.5 4.9zM337.8 142.7h5.1l-2.5 4.9zM338.0 142.8h5.1l-2.5 4.9zM338.2 142.8h5.1l-2.5 4.9zM338.4 142.9h5.1l-2.5 4.9zM338.6 142.9h5.1l-2.5 4.9zM338.8 143.0h5.1l-2.5 4.9zM339.0 143.0h5.1l-2.5 4.9zM339.2 143.1h5.1l-2.5 4.9zM339.4 143.1h5.1l-2.5 4.9zM339.6 143.2h5.1l-2.5 4.9zM339.8 143.2h5.1l-2.5 4.9zM340.0 143.3h5.1l-2.5 4.9zM340.2 143.4h5.1l-2.5 4.9zM340.4 143.4h5.1l-2.5 4.9zM340.6 143.5h5.1l-2.5 4.9zM340.8 143.5h5.1l-2.5 4.9zM341.0 143.6h5.1l-2.5 4.9zM341.2 143.6h5.1l-2.5 4.9zM341.3 143.7h5.1l-2.5 4.9zM341.5 143.7h5.1l-2.5 4.9zM341.7 143.8h5.1l-2.5 4.9zM341.9 143.8h5.1l-2.5 4.9zM342.1 143.9h5.1l-2.5 4.9zM342.3 143.9h5.1l-2.5 4.9zM342.5 144.0h5.1l-2.5 4.9zM342.6 144.0h5.1l-2.5 4.9zM342.8 144.1h5.1l-2.5 4.9zM343.0 144.1h5.1l-2.5 4.9zM343.2 144.2h5.1l-2.5 4.9zM343.4 144.2h5.1l-2.5 4.9zM343.6 144.3h5.1l-2.5 4.9zM343.7 144.3h5.1l-2.5 4.9zM343.9 144.4h5.1l-2.5 4.9zM344.1 144.4h5.1l-2.5 4.9zM344.3 144.5h5.1l-2.5 4.9zM344.4 144.5h5.1l-2.5 4.9zM344.6 144.5h5.1l-2.5 4.9zM344.8 144.6h5.1l-2.5 4.9zM345.0 144.6h5.1l-2.5 4.9zM345.2 144.7h5.1l-2.5 4.9zM345.3 144.7h5.1l-2.5 4.9zM345.5 144.8h5.1l-2.5 4.9zM345.7 144.8h5.1l-2.5 4.9zM345.9 144.9h5.1l-2.5 4.9zM346.0 144.9h5.1l-2.5 4.9zM346.2 145.0h5.1l-2.5 4.9zM346.4 145.0h5.1l-2.5 4.9zM346.5 145.1h5.1l-2.5 4.9zM346.7 145.1h5.1l-2.5 4.9zM346.9 145.2h5.1l-2.5 4.9zM347.0 145.2h5.1l-2.5 4.9zM347.2 145.2h5.1l-2.5 4.9zM347.4 145.3h5.1l-2.5 4.9zM347.6 145.3h5.1l-2.5 4.9zM347.7 145.4h5.1l-2.5 4.9zM347.9 145.4h5.1l-2.5 4.9zM348.1 145.5h5.1l-2.5 4.9zM348.2 145.5h5.1l-2.5 4.9zM348.4 145.6h5.1l-2.5 4.9zM348.5 145.6h5.1l-2.5 4.9zM348.7 145.7h5.1l-2.5 4.9zM348.9 145.7h5.1l-2.5 4.9zM349.0 145.7h5.1l-2.5 4.9zM349.2 145.8h5.1l-2.5 4.9zM349.4 145.8h5.1l-2.5 4.9zM349.5 145.9h5.1l-2.5 4.9zM349.7 145.9h5.1l-2.5 4.9zM349.8 146.0h5.1l-2.5 4.9zM350.0 146.0h5.1l-2.5 4.9zM350.2 146.0h5.1l-2.5 4.9zM350.3 146.1h5.1l-2.5 4.9zM350.5 146.1h5.1l-2.5 4.9zM350.6 146.2h5.1l-2.5 4.9zM350.8 146.2h5.1l-2.5 4.9zM351.0 146.3h5.1l-2.5 4.9zM351.1 146.3h5.1l-2.5 4.9zM351.3 146.3h5.1l-2.5 4.9zM351.4 146.4h5.1l-2.5 4.9zM351.6 146.4h5.1l-2.5 4.9zM351.7 146.5h5.1l-2.5 4.9zM351.9 146.5h5.1l-2.5 4.9zM352.0 146.5h5.1l-2.5 4.9zM352.2 146.6h5.1l-2.5 4.9zM352.4 146.6h5.1l-2.5 4.9zM352.5 146.7h5.1l-2.5 4.9zM352.7 146.7h5.1l-2.5 4.9zM352.8 146.8h5.1l-2.5 4.9zM353.0 146.8h5.1l-2.5 4.9zM353.1 146.8h5.1l-2.5 4.9zM353.3 146.9h5.1l-2.5 4.9zM353.4 146.9h5.1l-2.5 4.9zM353.6 147.0h5.1l-2.5 4.9zM353.7 147.0h5.1l-2.5 4.9zM353.9 147.0h5.1l-2.5 4.9zM354.0 147.1h5.1l-2.5 4.9zM354.2 147.1h5.1l-2.5 4.9zM354.3 147.2h5.1l-2.5 4.9zM354.5 147.2h5.1l-2.5 4.9zM354.6 147.2h5.1l-2.5 4.9zM354.7 147.3h5.1l-2.5 4.9zM354.9 147.3h5.1l-2.5 4.9zM355.0 147.4h5.1l-2.5 4.9zM355.2 147.4h5.1l-2.5 4.9zM355.3 147.4h5.1l-2.5 4.9zM355.5 147.5h5.1l-2.5 4.9zM355.6 147.5h5.1l-2.5 4.9zM355.8 147.5h5.1l-2.5 4.9zM355.9 147.6h5.1l-2.5 4.9zM356.0 147.6h5.1l-2.5 4.9zM356.2 147.7h5.1l-2.5 4.9zM356.3 147.7h5.1l-2.5 4.9zM356.5 147.7h5.1l-2.5 4.9zM356.6 147.8h5.1l-2.5 4.9zM356.8 147.8h5.1l-2.5 4.9zM356.9 147.9h5.1l-2.5 4.9zM357.0 147.9h5.1l-2.5 4.9zM357.2 147.9h5.1l-2.5 4.9zM357.3 148.0h5.1l-2.5 4.9zM357.5 148.0h5.1l-2.5 4.9zM357.6 148.0h5.1l-2.5 4.9zM357.7 148.1h5.1l-2.5 4.9zM357.9 148.1h5.1l-2.5 4.9zM358.0 148.1h5.1l-2.5 4.9zM358.1 148.2h5.1l-2.5 4.9zM358.3 148.2h5.1l-2.5 4.9zM358.4 148.3h5.1l-2.5 4.9zM358.6 148.3h5.1l-2.5 4.9zM358.7 148.3h5.1l-2.5 4.9zM358.8 148.4h5.1l-2.5 4.9zM359.0 148.4h5.1l-2.5 4.9zM359.1 148.4h5.1l-2.5 4.9zM359.2 148.5h5.1l-2.5 4.9zM359.4 148.5h5.1l-2.5 4.9zM359.5 148.5h5.1l-2.5 4.9zM359.6 148.6h5.1l-2.5 4.9zM359.8 148.6h5.1l-2.5 4.9zM359.9 148.7h5.1l-2.5 4.9z" fill="#00ff00"/>
<path clip-path="url(#c)" d="M44.7 61.5L369.1 152.8" stroke="#00ff00" stroke-width="0.95" fill="none"/>
<path d="M41.9 30.1h5.1l-2.5 -4.9zM78.6 45.0h5.1l-2.5 -4.9zM100.2 57.1h5.1l-2.5 -4.9zM115.4 67.0h5.1l-2.5 -4.9zM127.3 74.4h5.1l-2.5 -4.9zM137.0 81.6h5.1l-2.5 -4.9zM145.1 87.3h5.1l-2.5 -4.9zM152.2 91.8h5.1l-2.5 -4.9zM158.5 95.9h5.1l-2.5 -4.9zM164.1 99.1h5.1l-2.5 -4.9zM169.1 102.6h5.1l-2.5 -4.9zM173.8 105.5h5.1l-2.5 -4.9zM178.0 108.0h5.1l-2.5 -4.9zM181.9 110.3h5.1l-2.5 -4.9zM185.6 112.4h5.1l-2.5 -4.9zM189.0 114.5h5.1l-2.5 -4.9zM192.2 116.3h5.1l-2.5 -4.9zM195.3 118.2h5.1l-2.5 -4.9zM198.2 119.8h5.1l-2.5 -4.9zM200.9 121.4h5.1l-2.5 -4.9zM203.5 123.0h5.1l-2.5 -4.9zM205.9 124.4h5.1l-2.5 -4.9zM208.3 125.8h5.1l-2.5 -4.9zM210.6 127.1h5.1l-2.5 -4.9zM212.7 128.4h5.1l-2.5 -4.9zM214.8 129.6h5.1l-2.5 -4.9zM216.8 130.8h5.1l-2.5 -4.9zM218.7 132.0h5.1l-2.5 -4.9zM220.6 133.0h5.1l-2.5 -4.9zM222.4 134.0h5.1l-2.5 -4.9zM224.1 135.0h5.1l-2.5 -4.9zM225.8 136.0h5.1l-2.5 -4.9zM227.5 136.9h5.1l-2.5 -4.9zM229.0 137.8h5.1l-2.5 -4.9zM230.6 138.8h5.1l-2.5 -4.9zM232.1 139.7h5.1l-2.5 -4.9zM233.5 140.5h5.1l-2.5 -4.9zM234.9 141.3h5.1l-2.5 -4.9zM236.3 142.0h5.1l-2.5 -4.9zM237.7 142.8h5.1l-2.5 -4.9zM239.0 143.6h5.1l-2.5 -4.9zM240.3 144.5h5.1l-2.5 -4.9zM241.5 145.1h5.1l-2.5 -4.9zM242.7 146.0h5.1l-2.5 -4.9zM243.9 146.7h5.1l-2.5 -4.9zM245.1 147.4h5.1l-2.5 -4.9zM246.2 148.1h5.1l-2.5 -4.9zM247.3 148.7h5.1l-2.5 -4.9zM248.4 149.3h5.1l-2.5 -4.9zM249.5 149.9h5.1l-2.5 -4.9zM250.6 150.7h5.1l-2.5 -4.9zM251.6 151.2h5.1l-2.5 -4.9zM252.6 152.0h5.1l-2.5 -4.9zM253.6 152.5h5.1l-2.5 -4.9zM254.6 153.0h5.1l-2.5 -4.9zM255.5 153.5h5.1l-2.5 -4.9zM256.5 154.1h5.1l-2.5 -4.9zM257.4 154.6h5.1l-2.5 -4.9zM258.3 155.1h5.1l-2.5 -4.9zM259.2 155.7h5.1l-2.5 -4.9zM260.1 156.3h5.1l-2.5 -4.9zM260.9 156.8h5.1l-2.5 -4.9zM261.8 157.4h5.1l-2.5 -4.9zM262.6 157.7h5.1l-2.5 -4.9zM263.4 158.2h5.1l-2.5 -4.9zM264.3 158.7h5.1l-2.5 -4.9zM265.0 159.2h5.1l-2.5 -4.9zM265.8 159.7h5.1l-2.5 -4.9zM266.6 160.0h5.1l-2.5 -4.9zM267.4 160.4h5.1l-2.5 -4.9zM268.1 160.7h5.1l-2.5 -4.9zM268.9 160.8h5.1l-2.5 -4.9zM269.6 161.8h5.1l-2.5 -4.9zM270.3 162.2h5.1l-2.5 -4.9zM271.0 162.7h5.1l-2.5 -4.9zM271.7 163.0h5.1l-2.5 -4.9zM272.4 163.0h5.1l-2.5 -4.9zM273.1 163.7h5.1l-2.5 -4.9zM273.8 164.0h5.1l-2.5 -4.9zM274.5 164.5h5.1l-2.5 -4.9zM275.1 164.8h5.1l-2.5 -4.9zM275.8 164.8h5.1l-2.5 -4.9zM276.4 165.4h5.1l-2.5 -4.9zM277.1 165.7h5.1l-2.5 -4.9zM277.7 166.4h5.1l-2.5 -4.9zM278.3 166.4h5.1l-2.5 -4.9zM278.9 167.1h5.1l-2.5 -4.9zM279.5 167.0h5.1l-2.5 -4.9zM280.1 167.4h5.1l-2.5 -4.9zM280.7 167.8h5.1l-2.5 -4.9zM281.3 168.1h5.1l-2.5 -4.9zM281.9 168.3h5.1l-2.5 -4.9zM282.5 168.7h5.1l-2.5 -4.9zM283.0 168.6h5.1l-2.5 -4.9zM283.6 169.1h5.1l-2.5 -4.9zM284.1 169.5h5.1l-2.5 -4.9zM284.7 169.4h5.1l-2.5 -4.9zM285.2 170.0h5.1l-2.5 -4.9zM285.8 170.1h5.1l-2.5 -4.9zM286.3 170.3h5.1l-2.5 -4.9zM286.8 170.4h5.1l-2.5 -4.9zM287.4 171.0h5.1l-2.5 -4.9zM287.9 170.9h5.1l-2.5 -4.9zM288.4 171.6h5.1l-2.5 -4.9zM288.9 171.5h5.1l-2.5 -4.9zM289.4 171.7h5.1l-2.5 -4.9zM289.9 171.6h5.1l-2.5 -4.9zM290.4 172.1h5.1l-2.5 -4.9zM290.9 172.3h5.1l-2.5 -4.9zM291.4 172.5h5.1l-2.5 -4.9zM291.8 173.3h5.1l-2.5 -4.9zM292.3 173.0h5.1l-2.5 -4.9zM292.8 173.1h5.1l-2.5 -4.9zM293.3 173.9h5.1l-2.5 -4.9zM293.7 174.3h5.1l-2.5 -4.9zM294.2 174.6h5.1l-2.5 -4.9zM294.6 174.5h5.1l-2.5 -4.9zM295.1 174.6h5.1l-2.5 -4.9zM295.5 175.0h5.1l-2.5 -4.9zM296.0 174.6h5.1l-2.5 -4.9zM296.4 174.3h5.1l-2.5 -4.9zM296.9 175.0h5.1l-2.5 -4.9zM297.3 175.5h5.1l-2.5 -4.9zM297.7 175.6h5.1l-2.5 -4.9zM298.2 175.8h5.1l-2.5 -4.9zM298.6 176.3h5.1l-2.5 -4.9zM299.0 176.4h5.1l-2.5 -4.9zM299.4 176.3h5.1l-2.5 -4.9zM299.8 176.6h5.1l-2.5 -4.9zM300.2 177.4h5.1l-2.5 -4.9zM300.6 177.4h5.1l-2.5 -4.9zM301.0 177.2h5.1l-2.5 -4.9zM301.4 177.3h5.1l-2.5 -4.9zM301.8 177.6h5.1l-2.5 -4.9zM302.2 177.7h5.1l-2.5 -4.9zM302.6 177.8h5.1l-2.5 -4.9zM303.0 178.0h5.1l-2.5 -4.9zM303.4 178.2h5.1l-2.5 -4.9zM303.8 179.0h5.1l-2.5 -4.9zM304.2 179.0h5.1l-2.5 -4.9zM304.5 179.1h5.1l-2.5 -4.9zM304.9 179.4h5.1l-2.5 -4.9zM305.3 179.5h5.1l-2.5 -4.9zM305.7 179.4h5.1l-2.5 -4.9zM306.0 180.1h5.1l-2.5 -4.9zM306.4 180.0h5.1l-2.5 -4.9zM306.8 180.4h5.1l-2.5 -4.9zM307.1 180.8h5.1l-2.5 -4.9zM307.5 180.6h5.1l-2.5 -4.9zM307.8 180.8h5.1l-2.5 -4.9zM308.2 181.3h5.1l-2.5 -4.9zM308.5 181.0h5.1l-2.5 -4.9zM308.9 181.4h5.1l-2.5 -4.9zM309.2 181.6h5.1l-2.5 -4.9zM309.6 181.6h5.1l-2.5 -4.9zM309.9 181.7h5.1l-2.5 -4.9zM310.3 182.1h5.1l-2.5 -4.9zM310.6 181.8h5.1l-2.5 -4.9zM310.9 182.1h5.1l-2.5 -4.9zM311.3 182.1h5.1l-2.5 -4.9zM311.6 183.4h5.1l-2.5 -4.9zM311.9 182.4h5.1l-2.5 -4.9zM312.2 183.2h5.1l-2.5 -4.9zM312.6 183.5h5.1l-2.5 -4.9zM312.9 183.8h5.1l-2.5 -4.9zM313.2 183.3h5.1l-2.5 -4.9zM313.5 183.9h5.1l-2.5 -4.9zM313.8 184.2h5.1l-2.5 -4.9zM314.2 184.5h5.1l-2.5 -4.9zM314.5 184.6h5.1l-2.5 -4.9zM314.8 184.6h5.1l-2.5 -4.9zM315.1 184.9h5.1l-2.5 -4.9zM315.4 185.3h5.1l-2.5 -4.9zM315.7 185.8h5.1l-2.5 -4.9zM316.0 185.5h5.1l-2.5 -4.9zM316.3 185.4h5.1l-2.5 -4.9zM316.6 185.8h5.1l-2.5 -4.9zM316.9 185.7h5.1l-2.5 -4.9zM317.2 185.9h5.1l-2.5 -4.9zM317.5 186.4h5.1l-2.5 -4.9zM317.8 185.7h5.1l-2.5 -4.9zM318.1 186.0h5.1l-2.5 -4.9zM318.4 186.3h5.1l-2.5 -4.9zM318.7 186.9h5.1l-2.5 -4.9zM319.0 186.3h5.1l-2.5 -4.9zM319.3 186.8h5.1l-2.5 -4.9zM319.5 187.0h5.1l-2.5 -4.9zM319.8 187.3h5.1l-2.5 -4.9zM320.1 187.2h5.1l-2.5 -4.9zM320.4 188.1h5.1l-2.5 -4.9zM320.7 187.6h5.1l-2.5 -4.9zM320.9 187.9h5.1l-2.5 -4.9zM321.2 187.8h5.1l-2.5 -4.9zM321.5 188.0h5.1l-2.5 -4.9zM321.8 188.1h5.1l-2.5 -4.9zM322.0 188.6h5.1l-2.5 -4.9zM322.3 189.1h5.1l-2.5 -4.9zM322.6 189.0h5.1l-2.5 -4.9zM322.8 188.8h5.1l-2.5 -4.9zM323.1 189.0h5.1l-2.5 -4.9zM323.4 189.2h5.1l-2.5 -4.9zM323.6 188.8h5.1l-2.5 -4.9zM323.9 188.6h5.1l-2.5 -4.9zM324.2 188.9h5.1l-2.5 -4.9zM324.4 189.2h5.1l-2.5 -4.9zM324.7 189.5h5.1l-2.5 -4.9zM324.9 189.6h5.1l-2.5 -4.9zM325.2 189.9h5.1l-2.5 -4.9zM325.4 190.0h5.1l-2.5 -4.9zM325.7 189.9h5.1l-2.5 -4.9zM325.9 189.9h5.1l-2.5 -4.9zM326.2 189.9h5.1l-2.5 -4.9zM326.4 190.0h5.1l-2.5 -4.9zM326.7 190.3h5.1l-2.5 -4.9zM326.9 190.4h5.1l-2.5 -4.9zM327.2 190.7h5.1l-2.5 -4.9zM327.4 190.9h5.1l-2.5 -4.9zM327.7 190.6h5.1l-2.5 -4.9zM327.9 190.5h5.1l-2.5 -4.9zM328.2 191.2h5.1l-2.5 -4.9zM328.4 191.6h5.1l-2.5 -4.9zM328.6 191.5h5.1l-2.5 -4.9zM328.9 190.7h5.1l-2.5 -4.9zM329.1 191.1h5.1l-2.5 -4.9zM329.4 191.6h5.1l-2.5 -4.9zM329.6 191.8h5.1l-2.5 -4.9zM329.8 192.1h5.1l-2.5 -4.9zM330.1 192.1h5.1l-2.5 -4.9zM330.3 191.8h5.1l-2.5 -4.9zM330.5 191.8h5.1l-2.5 -4.9zM330.8 191.8h5.1l-2.5 -4.9zM331.0 192.0h5.1l-2.5 -4.9zM331.2 192.7h5.1l-2.5 -4.9zM331.4 192.4h5.1l-2.5 -4.9zM331.7 193.2h5.1l-2.5 -4.9zM331.9 193.0h5.1l-2.5 -4.9zM332.1 192.9h5.1l-2.5 -4.9zM332.3 193.3h5.1l-2.5 -4.9zM332.6 192.2h5.1l-2.5 -4.9zM332.8 193.0h5.1l-2.5 -4.9zM333.0 192.8h5.1l-2.5 -4.9zM333.2 193.7h5.1l-2.5 -4.9zM333.4 193.3h5.1l-2.5 -4.9zM333.7 193.1h5.1l-2.5 -4.9zM333.9 193.5h5.1l-2.5 -4.9zM334.1 192.8h5.1l-2.5 -4.9zM334.3 193.5h5.1l-2.5 -4.9zM334.5 193.7h5.1l-2.5 -4.9zM334.7 193.8h5.1l-2.5 -4.9zM334.9 194.4h5.1l-2.5 -4.9zM335.2 193.8h5.1l-2.5 -4.9zM335.4 194.6h5.1l-2.5 -4.9zM335.6 194.4h5.1l-2.5 -4.9zM335.8 195.0h5.1l-2.5 -4.9zM336.0 193.9h5.1l-2.5 -4.9zM336.2 194.4h5.1l-2.5 -4.9zM336.4 195.1h5.1l-2.5 -4.9zM336.6 194.7h5.1l-2.5 -4.9zM336.8 194.5h5.1l-2.5 -4.9zM337.0 194.2h5.1l-2.5 -4.9zM337.2 194.8h5.1l-2.5 -4.9zM337.4 195.3h5.1l-2.5 -4.9zM337.6 195.4h5.1l-2.5 -4.9zM337.8 195.3h5.1l-2.5 -4.9zM338.0 195.9h5.1l-2.5 -4.9zM338.2 195.8h5.1l-2.5 -4.9zM338.4 195.9h5.1l-2.5 -4.9zM338.6 196.1h5.1l-2.5 -4.9zM338.8 196.3h5.1l-2.5 -4.9zM339.0 196.0h5.1l-2.5 -4.9zM339.2 196.5h5.1l-2.5 -4.9zM339.4 195.7h5.1l-2.5 -4.9zM339.6 196.4h5.1l-2.5 -4.9zM339.8 196.9h5.1l-2.5 -4.9zM340.0 195.9h5.1l-2.5 -4.9zM340.2 196.6h5.1l-2.5 -4.9zM340.4 196.4h5.1l-2.5 -4.9zM340.6 197.1h5.1l-2.5 -4.9zM340.8 196.2h5.1l-2.5 -4.9zM341.0 196.3h5.1l-2.5 -4.9zM341.2 197.1h5.1l-2.5 -4.9zM341.3 196.8h5.1l-2.5 -4.9zM341.5 197.5h5.1l-2.5 -4.9zM341.7 196.8h5.1l-2.5 -4.9zM341.9 197.1h5.1l-2.5 -4.9zM342.1 197.0h5.1l-2.5 -4.9zM342.3 197.4h5.1l-2.5 -4.9zM342.5 197.9h5.1l-2.5 -4.9zM342.6 197.9h5.1l-2.5 -4.9zM342.8 198.0h5.1l-2.5 -4.9zM343.0 197.8h5.1l-2.5 -4.9zM343.2 197.9h5.1l-2.5 -4.9zM343.4 198.4h5.1l-2.5 -4.9zM343.6 198.8h5.1l-2.5 -4.9zM343.7 198.5h5.1l-2.5 -4.9zM343.9 198.6h5.1l-2.5 -4.9zM344.1 198.8h5.1l-2.5 -4.9zM344.3 198.7h5.1l-2.5 -4.9zM344.4 198.5h5.1l-2.5 -4.9zM344.6 198.1h5.1l-2.5 -4.9zM344.8 198.8h5.1l-2.5 -4.9zM345.0 198.3h5.1l-2.5 -4.9zM345.2 197.9h5.1l-2.5 -4.9zM345.3 199.0h5.1l-2.5 -4.9zM345.5 199.0h5.1l-2.5 -4.9zM345.7 198.9h5.1l-2.5 -4.9zM345.9 199.3h5.1l-2.5 -4.9zM346.0 199.2h5.1l-2.5 -4.9zM346.2 199.6h5.1l-2.5 -4.9zM346.4 199.5h5.1l-2.5 -4.9zM346.5 199.0h5.1l-2.5 -4.9zM346.7 199.6h5.1l-2.5 -4.9zM346.9 199.7h5.1l-2.5 -4.9zM347.0 200.1h5.1l-2.5 -4.9zM347.2 200.2h5.1l-2.5 -4.9zM347.4 200.7h5.1l-2.5 -4.9zM347.6 200.1h5.1l-2.5 -4.9zM347.7 200.3h5.1l-2.5 -4.9zM347.9 199.9h5.1l-2.5 -4.9zM348.1 200.3h5.1l-2.5 -4.9zM348.2 199.9h5.1l-2.5 -4.9zM348.4 200.5h5.1l-2.5 -4.9zM348.5 200.7h5.1l-2.5 -4.9zM348.7 200.7h5.1l-2.5 -4.9zM348.9 201.4h5.1l-2.5 -4.9zM349.0 200.8h5.1l-2.5 -4.9zM349.2 200.9h5.1l-2.5 -4.9zM349.4 201.3h5.1l-2.5 -4.9zM349.5 200.7h5.1l-2.5 -4.9zM349.7 200.7h5.1l-2.5 -4.9zM349.8 201.4h5.1l-2.5 -4.9zM350.0 201.0h5.1l-2.5 -4.9zM350.2 201.4h5.1l-2.5 -4.9zM350.3 200.8h5.1l-2.5 -4.9zM350.5 201.1h5.1l-2.5 -4.9zM350.6 201.8h5.1l-2.5 -4.9zM350.8 201.9h5.1l-2.5 -4.9zM351.0 201.8h5.1l-2.5 -4.9zM351.1 201.4h5.1l-2.5 -4.9zM351.3 201.9h5.1l-2.5 -4.9zM351.4 201.7h5.1l-2.5 -4.9zM351.6 201.8h5.1l-2.5 -4.9zM351.7 201.9h5.1l-2.5 -4.9zM351.9 201.3h5.1l-2.5 -4.9zM352.0 201.9h5.1l-2.5 -4.9zM352.2 201.4h5.1l-2.5 -4.9zM352.4 201.4h5.1l-2.5 -4.9zM352.5 201.9h5.1l-2.5 -4.9zM352.7 202.4h5.1l-2.5 -4.9zM352.8 202.2h5.1l-2.5 -4.9zM353.0 201.8h5.1l-2.5 -4.9zM353.1 202.0h5.1l-2.5 -4.9zM353.3 201.8h5.1l-2.5 -4.9zM353.4 202.6h5.1l-2.5 -4.9zM353.6 202.1h5.1l-2.5 -4.9zM353.7 202.1h5.1l-2.5 -4.9zM353.9 201.6h5.1l-2.5 -4.9zM354.0 202.4h5.1l-2.5 -4.9zM354.2 203.3h5.1l-2.5 -4.9zM354.3 203.1h5.1l-2.5 -4.9zM354.5 202.9h5.1l-2.5 -4.9zM354.6 202.5h5.1l-2.5 -4.9zM354.7 202.9h5.1l-2.5 -4.9zM354.9 202.5h5.1l-2.5 -4.9zM355.0 202.9h5.1l-2.5 -4.9zM355.2 203.1h5.1l-2.5 -4.9zM355.3 203.0h5.1l-2.5 -4.9zM355.5 203.5h5.1l-2.5 -4.9zM355.6 203.2h5.1l-2.5 -4.9zM355.8 203.1h5.1l-2.5 -4.9zM355.9 203.6h5.1l-2.5 -4.9zM356.0 203.5h5.1l-2.5 -4.9zM356.2 204.1h5.1l-2.5 -4.9zM356.3 203.8h5.1l-2.5 -4.9zM356.5 203.9h5.1l-2.5 -4.9zM356.6 204.0h5.1l-2.5 -4.9zM356.8 203.5h5.1l-2.5 -4.9zM356.9 203.6h5.1l-2.5 -4.9zM357.0 204.7h5.1l-2.5 -4.9zM357.2 204.0h5.1l-2.5 -4.9zM357.3 204.0h5.1l-2.5 -4.9zM357.5 203.6h5.1l-2.5 -4.9zM357.6 204.3h5.1l-2.5 -4.9zM357.7 203.6h5.1l-2.5 -4.9zM357.9 204.6h5.1l-2.5 -4.9zM358.0 204.2h5.1l-2.5 -4.9zM358.1 204.9h5.1l-2.5 -4.9zM358.3 205.4h5.1l-2.5 -4.9zM358.4 205.1h5.1l-2.5 -4.9zM358.6 205.2h5.1l-2.5 -4.9zM358.7 204.6h5.1l-2.5 -4.9zM358.8 204.6h5.1l-2.5 -4.9zM359.0 204.4h5.1l-2.5 -4.9zM359.1 204.8h5.1l-2.5 -4.9zM359.2 204.7h5.1l-2.5 -4.9zM359.4 205.7h5.1l-2.5 -4.9zM359.5 205.4h5.1l-2.5 -4.9zM359.6 205.1h5.1l-2.5 -4.9zM359.8 206.0h5.1l-2.5 -4.9zM359.9 205.2h5.1l-2.5 -4.9z" fill="#0000ff"/>
<path clip-path="url(#c)" d="M44.7 44.5L369.1 207.4" stroke="#0000ff" stroke-width="0.95" fill="none"/>
<path d="M42.15 29.69a2.25 2.25 0 0 0 4.50 0a2.25 2.25 0 0 0 -4.50 0zM78.94 47.52a2.25 2.25 0 0 0 4.50 0a2.25 2.25 0 0 0 -4.50 0zM100.47 61.25a2.25 2.25 0 0 0 4.50 0a2.25 2.25 0 0 0 -4.50 0zM115.74 72.50a2.25 2.25 0 0 0 4.50 0a2.25 2.25 0 0 0 -4.50 0zM127.58 81.26a2.25 2.25 0 0 0 4.50 0a2.25 2.25 0 0 0 -4.50 0zM137.26 89.40a2.25 2.25 0 0 0 4.50 0a2.25 2.25 0 0 0 -4.50 0zM145.45 96.14a2.25 2.25 0 0 0 4.50 0a2.25 2.25 0 0 0 -4.50 0zM152.53 101.77a2.25 2.25 0 0 0 4.50 0a2.25 2.25 0 0 0 -4.50 0zM158.79 107.07a2.25 2.25 0 0 0 4.50 0a2.25 2.25 0 0 0 -4.50 0zM164.38 111.82a2.25 2.25 0 0 0 4.50 0a2.25 2.25 0 0 0 -4.50 0zM169.44 115.73a2.25 2.25 0 0 0 4.50 0a2.25 2.25 0 0 0 -4.50 0zM174.06 119.43a2.25 2.25 0 0 0 4.50 0a2.25 2.25 0 0 0 -4.50 0zM178.31 122.87a2.25 2.25 0 0 0 4.50 0a2.25 2.25 0 0 0 -4.50 0zM182.24 125.86a2.25 2.25 0 0 0 4.50 0a2.25 2.25 0 0 0 -4.50 0zM185.90 128.76a2.25 2.25 0 0 0 4.50 0a2.25 2.25 0 0 0 -4.50 0zM189.33 131.45a2.25 2.25 0 0 0 4.50 0a2.25 2.25 0 0 0 -4.50 0zM192.55 134.04a2.25 2.25 0 0 0 4.50 0a2.25 2.25 0 0 0 -4.50 0zM195.58 136.48a2.25 2.25 0 0 0 4.50 0a2.25 2.25 0 0 0 -4.50 0zM198.45 138.87a2.25 2.25 0 0 0 4.50 0a2.25 2.25 0 0 0 -4.50 0zM201.17 141.08a2.25 2.25 0 0 0 4.50 0a2.25 2.25 0 0 0 -4.50 0zM203.76 142.99a2.25 2.25 0 0 0 4.50 0a2.25 2.25 0 0 0 -4.50 0zM206.23 145.07a2.25 2.25 0 0 0 4.50 0a2.25 2.25 0 0 0 -4.50 0zM208.59 147.08a2.25 2.25 0 0 0 4.50 0a2.25 2.25 0 0 0 -4.50 0zM210.85 148.90a2.25 2.25 0 0 0 4.50 0a2.25 2.25 0 0 0 -4.50 0zM213.02 150.62a2.25 2.25 0 0 0 4.50 0a2.25 2.25 0 0 0 -4.50 0zM215.10 152.41a2.25 2.25 0 0 0 4.50 0a2.25 2.25 0 0 0 -4.50 0zM217.10 153.94a2.25 2.25 0 0 0 4.50 0a2.25 2.25 0 0 0 -4.50 0zM219.03 155.67a2.25 2.25 0 0 0 4.50 0a2.25 2.25 0 0 0 -4.50 0zM220.90 157.31a2.25 2.25 0 0 0 4.50 0a2.25 2.25 0 0 0 -4.50 0zM222.70 158.68a2.25 2.25 0 0 0 4.50 0a2.25 2.25 0 0 0 -4.50 0zM224.44 160.20a2.25 2.25 0 0 0 4.50 0a2.25 2.25 0 0 0 -4.50 0zM226.12 161.47a2.25 2.25 0 0 0 4.50 0a2.25 2.25 0 0 0 -4.50 0zM227.76 162.95a2.25 2.25 0 0 0 4.50 0a2.25 2.25 0 0 0 -4.50 0zM229.34 164.34a2.25 2.25 0 0 0 4.50 0a2.25 2.25 0 0 0 -4.50 0zM230.88 165.62a2.25 2.25 0 0 0 4.50 0a2.25 2.25 0 0 0 -4.50 0zM232.38 166.90a2.25 2.25 0 0 0 4.50 0a2.25 2.25 0 0 0 -4.50 0zM233.83 168.06a2.25 2.25 0 0 0 4.50 0a2.25 2.25 0 0 0 -4.50 0zM235.25 169.11a2.25 2.25 0 0 0 4.50 0a2.25 2.25 0 0 0 -4.50 0zM236.62 170.45a2.25 2.25 0 0 0 4.50 0a2.25 2.25 0 0 0 -4.50 0zM237.97 171.57a2.25 2.25 0 0 0 4.50 0a2.25 2.25 0 0 0 -4.50 0zM239.28 172.88a2.25 2.25 0 0 0 4.50 0a2.25 2.25 0 0 0 -4.50 0zM240.56 174.06a2.25 2.25 0 0 0 4.50 0a2.25 2.25 0 0 0 -4.50 0zM241.81 175.22a2.25 2.25 0 0 0 4.50 0a2.25 2.25 0 0 0 -4.50 0zM243.03 176.06a2.25 2.25 0 0 0 4.50 0a2.25 2.25 0 0 0 -4.50 0zM244.22 176.99a2.25 2.25 0 0 0 4.50 0a2.25 2.25 0 0 0 -4.50 0zM245.39 178.11a2.25 2.25 0 0 0 4.50 0a2.25 2.25 0 0 0 -4.50 0zM246.53 179.07a2.25 2.25 0 0 0 4.50 0a2.25 2.25 0 0 0 -4.50 0zM247.65 180.23a2.25 2.25 0 0 0 4.50 0a2.25 2.25 0 0 0 -4.50 0zM248.74 181.01a2.25 2.25 0 0 0 4.50 0a2.25 2.25 0 0 0 -4.50 0zM249.81 182.16a2.25 2.25 0 0 0 4.50 0a2.25 2.25 0 0 0 -4.50 0zM250.86 183.13a2.25 2.25 0 0 0 4.50 0a2.25 2.25 0 0 0 -4.50 0zM251.90 184.03a2.25 2.25 0 0 0 4.50 0a2.25 2.25 0 0 0 -4.50 0zM252.91 185.07a2.25 2.25 0 0 0 4.50 0a2.25 2.25 0 0 0 -4.50 0zM253.90 186.18a2.25 2.25 0 0 0 4.50 0a2.25 2.25 0 0 0 -4.50 0zM254.87 186.76a2.25 2.25 0 0 0 4.50 0a2.25 2.25 0 0 0 -4.50 0zM255.83 187.50a2.25 2.25 0 0 0 4.50 0a2.25 2.25 0 0 0 -4.50 0zM256.77 188.51a2.25 2.25 0 0 0 4.50 0a2.25 2.25 0 0 0 -4.50 0zM257.69 189.07a2.25 2.25 0 0 0 4.50 0a2.25 2.25 0 0 0 -4.50 0zM258.60 190.57a2.25 2.25 0 0 0 4.50 0a2.25 2.25 0 0 0 -4.50 0zM259.49 190.94a2.25 2.25 0 0 0 4.50 0a2.25 2.25 0 0 0 -4.50 0zM260.37 192.03a2.25 2.25 0 0 0 4.50 0a2.25 2.25 0 0 0 -4.50 0zM261.23 192.48a2.25 2.25 0 0 0 4.50 0a2.25 2.25 0 0 0 -4.50 0zM262.08 193.27a2.25 2.25 0 0 0 4.50 0a2.25 2.25 0 0 0 -4.50 0zM262.92 193.76a2.25 2.25 0 0 0 4.50 0a2.25 2.25 0 0 0 -4.50 0zM263.74 194.91a2.25 2.25 0 0 0 4.50 0a2.25 2.25 0 0 0 -4.50 0zM264.55 195.47a2.25 2.25 0 0 0 4.50 0a2.25 2.25 0 0 0 -4.50 0zM265.35 196.22a2.25 2.25 0 0 0 4.50 0a2.25 2.25 0 0 0 -4.50 0zM266.14 197.66a2.25 2.25 0 0 0 4.50 0a2.25 2.25 0 0 0 -4.50 0zM266.91 198.44a2.25 2.25 0 0 0 4.50 0a2.25 2.25 0 0 0 -4.50 0zM267.67 199.43a2.25 2.25 0 0 0 4.50 0a2.25 2.25 0 0 0 -4.50 0zM268.43 200.33a2.25 2.25 0 0 0 4.50 0a2.25 2.25 0 0 0 -4.50 0zM269.17 200.57a2.25 2.25 0 0 0 4.50 0a2.25 2.25 0 0 0 -4.50 0zM269.90 201.40a2.25 2.25 0 0 0 4.50 0a2.25 2.25 0 0 0 -4.50 0zM270.62 201.79a2.25 2.25 0 0 0 4.50 0a2.25 2.25 0 0 0 -4.50 0zM271.34 201.95a2.25 2.25 0 0 0 4.50 0a2.25 2.25 0 0 0 -4.50 0zM272.04 203.34a2.25 2.25 0 0 0 4.50 0a2.25 2.25 0 0 0 -4.50 0zM272.73 203.80a2.25 2.25 0 0 0 4.50 0a2.25 2.25 0 0 0 -4.50 0zM273.42 204.54a2.25 2.25 0 0 0 4.50 0a2.25 2.25 0 0 0 -4.50 0zM274.10 205.34a2.25 2.25 0 0 0 4.50 0a2.25 2.25 0 0 0 -4.50 0zM274.76 205.75a2.25 2.25 0 0 0 4.50 0a2.25 2.25 0 0 0 -4.50 0zM275.42 206.44a2.25 2.25 0 0 0 4.50 0a2.25 2.25 0 0 0 -4.50 0zM276.07 207.03a2.25 2.25 0 0 0 4.50 0a2.25 2.25 0 0 0 -4.50 0zM276.72 207.56a2.25 2.25 0 0 0 4.50 0a2.25 2.25 0 0 0 -4.50 0zM277.35 208.11a2.25 2.25 0 0 0 4.50 0a2.25 2.25 0 0 0 -4.50 0zM277.98 208.03a2.25 2.25 0 0 0 4.50 0a2.25 2.25 0 0 0 -4.50 0zM278.60 208.83a2.25 2.25 0 0 0 4.50 0a2.25 2.25 0 0 0 -4.50 0zM279.22 210.05a2.25 2.25 0 0 0 4.50 0a2.25 2.25 0 0 0 -4.50 0zM279.82 210.46a2.25 2.25 0 0 0 4.50 0a2.25 2.25 0 0 0 -4.50 0zM280.42 209.86a2.25 2.25 0 0 0 4.50 0a2.25 2.25 0 0 0 -4.50 0zM281.02 211.17a2.25 2.25 0 0 0 4.50 0a2.25 2.25 0 0 0 -4.50 0zM281.60 211.82a2.25 2.25 0 0 0 4.50 0a2.25 2.25 0 0 0 -4.50 0zM282.18 212.35a2.25 2.25 0 0 0 4.50 0a2.25 2.25 0 0 0 -4.50 0zM282.76 212.58a2.25 2.25 0 0 0 4.50 0a2.25 2.25 0 0 0 -4.50 0zM283.32 213.04a2.25 2.25 0 0 0 4.50 0a2.25 2.25 0 0 0 -4.50 0zM283.89 213.17a2.25 2.25 0 0 0 4.50 0a2.25 2.25 0 0 0 -4.50 0zM284.44 214.52a2.25 2.25 0 0 0 4.50 0a2.25 2.25 0 0 0 -4.50 0zM284.99 214.80a2.25 2.25 0 0 0 4.50 0a2.25 2.25 0 0 0 -4.50 0zM285.54 215.35a2.25 2.25 0 0 0 4.50 0a2.25 2.25 0 0 0 -4.50 0zM286.07 215.32a2.25 2.25 0 0 0 4.50 0a2.25 2.25 0 0 0 -4.50 0zM286.61 216.43a2.25 2.25 0 0 0 4.50 0a2.25 2.25 0 0 0 -4.50 0zM287.14 216.14a2.25 2.25 0 0 0 4.50 0a2.25 2.25 0 0 0 -4.50 0zM287.66 216.17a2.25 2.25 0 0 0 4.50 0a2.25 2.25 0 0 0 -4.50 0zM288.18 217.54a2.25 2.25 0 0 0 4.50 0a2.25 2.25 0 0 0 -4.50 0zM288.69 218.30a2.25 2.25 0 0 0 4.50 0a2.25 2.25 0 0 0 -4.50 0zM289.20 219.60a2.25 2.25 0 0 0 4.50 0a2.25 2.25 0 0 0 -4.50 0zM289.70 218.05a2.25 2.25 0 0 0 4.50 0a2.25 2.25 0 0 0 -4.50 0zM290.20 219.35a2.25 2.25 0 0 0 4.50 0a2.25 2.25 0 0 0 -4.50 0zM290.69 219.27a2.25 2.25 0 0 0 4.50 0a2.25 2.25 0 0 0 -4.50 0zM291.18 220.52a2.25 2.25 0 0 0 4.50 0a2.25 2.25 0 0 0 -4.50 0zM291.67 219.55a2.25 2.25 0 0 0 4.50 0a2.25 2.25 0 0 0 -4.50 0zM292.15 220.21a2.25 2.25 0 0 0 4.50 0a2.25 2.25 0 0 0 -4.50 0zM292.62 221.85a2.25 2.25 0 0 0 4.50 0a2.25 2.25 0 0 0 -4.50 0zM293.10 221.49a2.25 2.25 0 0 0 4.50 0a2.25 2.25 0 0 0 -4.50 0zM293.56 221.84a2.25 2.25 0 0 0 4.50 0a2.25 2.25 0 0 0 -4.50 0zM294.03 222.96a2.25 2.25 0 0 0 4.50 0a2.25 2.25 0 0 0 -4.50 0zM294.49 222.50a2.25 2.25 0 0 0 4.50 0a2.25 2.25 0 0 0 -4.50 0zM294.94 223.93a2.25 2.25 0 0 0 4.50 0a2.25 2.25 0 0 0 -4.50 0zM295.39 223.83a2.25 2.25 0 0 0 4.50 0a2.25 2.25 0 0 0 -4.50 0zM295.84 224.45a2.25 2.25 0 0 0 4.50 0a2.25 2.25 0 0 0 -4.50 0zM296.29 223.25a2.25 2.25 0 0 0 4.50 0a2.25 2.25 0 0 0 -4.50 0zM296.73 224.49a2.25 2.25 0 0 0 4.50 0a2.25 2.25 0 0 0 -4.50 0zM297.16 224.59a2.25 2.25 0 0 0 4.50 0a2.25 2.25 0 0 0 -4.50 0zM297.60 225.11a2.25 2.25 0 0 0 4.50 0a2.25 2.25 0 0 0 -4.50 0zM298.03 225.34a2.25 2.25 0 0 0 4.50 0a2.25 2.25 0 0 0 -4.50 0zM298.45 226.13a2.25 2.25 0 0 0 4.50 0a2.25 2.25 0 0 0 -4.50 0zM298.88 227.01a2.25 2.25 0 0 0 4.50 0a2.25 2.25 0 0 0 -4.50 0zM299.30 227.71a2.25 2.25 0 0 0 4.50 0a2.25 2.25 0 0 0 -4.50 0zM299.71 228.39a2.25 2.25 0 0 0 4.50 0a2.25 2.25 0 0 0 -4.50 0zM300.13 229.15a2.25 2.25 0 0 0 4.50 0a2.25 2.25 0 0 0 -4.50 0zM300.54 228.41a2.25 2.25 0 0 0 4.50 0a2.25 2.25 0 0 0 -4.50 0zM300.94 228.93a2.25 2.25 0 0 0 4.50 0a2.25 2.25 0 0 0 -4.50 0zM301.35 229.18a2.25 2.25 0 0 0 4.50 0a2.25 2.25 0 0 0 -4.50 0zM301.75 230.22a2.25 2.25 0 0 0 4.50 0a2.25 2.25 0 0 0 -4.50 0zM302.14 231.22a2.25 2.25 0 0 0 4.50 0a2.25 2.25 0 0 0 -4.50 0zM302.54 230.94a2.25 2.25 0 0 0 4.50 0a2.25 2.25 0 0 0 -4.50 0zM302.93 231.57a2.25 2.25 0 0 0 4.50 0a2.25 2.25 0 0 0 -4.50 0zM303.32 230.79a2.25 2.25 0 0 0 4.50 0a2.25 2.25 0 0 0 -4.50 0zM303.71 231.16a2.25 2.25 0 0 0 4.50 0a2.25 2.25 0 0 0 -4.50 0zM304.09 232.20a2.25 2.25 0 0 0 4.50 0a2.25 2.25 0 0 0 -4.50 0zM304.47 232.53a2.25 2.25 0 0 0 4.50 0a2.25 2.25 0 0 0 -4.50 0zM304.85 231.92a2.25 2.25 0 0 0 4.50 0a2.25 2.25 0 0 0 -4.50 0zM305.22 234.27a2.25 2.25 0 0 0 4.50 0a2.25 2.25 0 0 0 -4.50 0zM305.59 234.16a2.25 2.25 0 0 0 4.50 0a2.25 2.25 0 0 0 -4.50 0zM305.96 233.45a2.25 2.25 0 0 0 4.50 0a2.25 2.25 0 0 0 -4.50 0zM306.33 233.78a2.25 2.25 0 0 0 4.50 0a2.25 2.25 0 0 0 -4.50 0zM306.70 232.94a2.25 2.25 0 0 0 4.50 0a2.25 2.25 0 0 0 -4.50 0zM307.06 232.79a2.25 2.25 0 0 0 4.50 0a2.25 2.25 0 0 0 -4.50 0zM307.42 234.10a2.25 2.25 0 0 0 4.50 0a2.25 2.25 0 0 0 -4.50 0zM307.78 235.10a2.25 2.25 0 0 0 4.50 0a2.25 2.25 0 0 0 -4.50 0zM308.13 235.37a2.25 2.25 0 0 0 4.50 0a2.25 2.25 0 0 0 -4.50 0zM308.48 238.10a2.25 2.25 0 0 0 4.50 0a2.25 2.25 0 0 0 -4.50 0zM308.83 237.13a2.25 2.25 0 0 0 4.50 0a2.25 2.25 0 0 0 -4.50 0zM309.18 237.62a2.25 2.25 0 0 0 4.50 0a2.25 2.25 0 0 0 -4.50 0zM309.53 236.39a2.25 2.25 0 0 0 4.50 0a2.25 2.25 0 0 0 -4.50 0zM309.87 238.96a2.25 2.25 0 0 0 4.50 0a2.25 2.25 0 0 0 -4.50 0zM310.21 237.97a2.25 2.25 0 0 0 4.50 0a2.25 2.25 0 0 0 -4.50 0zM310.55 239.17a2.25 2.25 0 0 0 4.50 0a2.25 2.25 0 0 0 -4.50 0zM310.89 238.71a2.25 2.25 0 0 0 4.50 0a2.25 2.25 0 0 0 -4.50 0zM311.22 239.80a2.25 2.25 0 0 0 4.50 0a2.25 2.25 0 0 0 -4.50 0zM311.56 239.15a2.25 2.25 0 0 0 4.50 0a2.25 2.25 0 0 0 -4.50 0zM311.89 239.42a2.25 2.25 0 0 0 4.50 0a2.25 2.25 0 0 0 -4.50 0zM312.22 240.09a2.25 2.25 0 0 0 4.50 0a2.25 2.25 0 0 0 -4.50 0zM312.54 238.35a2.25 2.25 0 0 0 4.50 0a2.25 2.25 0 0 0 -4.50 0zM312.87 240.18a2.25 2.25 0 0 0 4.50 0a2.25 2.25 0 0 0 -4.50 0zM313.19 239.39a2.25 2.25 0 0 0 4.50 0a2.25 2.25 0 0 0 -4.50 0zM313.51 240.47a2.25 2.25 0 0 0 4.50 0a2.25 2.25 0 0 0 -4.50 0zM313.83 242.20a2.25 2.25 0 0 0 4.50 0a2.25 2.25 0 0 0 -4.50 0zM314.15 241.49a2.25 2.25 0 0 0 4.50 0a2.25 2.25 0 0 0 -4.50 0zM314.46 241.31a2.25 2.25 0 0 0 4.50 0a2.25 2.25 0 0 0 -4.50 0zM314.78 240.61a2.25 2.25 0 0 0 4.50 0a2.25 2.25 0 0 0 -4.50 0zM315.09 241.18a2.25 2.25 0 0 0 4.50 0a2.25 2.25 0 0 0 -4.50 0zM315.40 241.49a2.25 2.25 0 0 0 4.50 0a2.25 2.25 0 0 0 -4.50 0zM315.70 242.55a2.25 2.25 0 0 0 4.50 0a2.25 2.25 0 0 0 -4.50 0zM316.01 243.15a2.25 2.25 0 0 0 4.50 0a2.25 2.25 0 0 0 -4.50 0zM316.31 243.51a2.25 2.25 0 0 0 4.50 0a2.25 2.25 0 0 0 -4.50 0zM316.62 243.29a2.25 2.25 0 0 0 4.50 0a2.25 2.25 0 0 0 -4.50 0zM316.92 243.96a2.25 2.25 0 0 0 4.50 0a2.25 2.25 0 0 0 -4.50 0zM317.22 244.13a2.25 2.25 0 0 0 4.50 0a2.25 2.25 0 0 0 -4.50 0zM317.51 243.86a2.25 2.25 0 0 0 4.50 0a2.25 2.25 0 0 0 -4.50 0zM317.81 243.74a2.25 2.25 0 0 0 4.50 0a2.25 2.25 0 0 0 -4.50 0zM318.10 244.28a2.25 2.25 0 0 0 4.50 0a2.25 2.25 0 0 0 -4.50 0zM318.40 245.13a2.25 2.25 0 0 0 4.50 0a2.25 2.25 0 0 0 -4.50 0zM318.69 246.81a2.25 2.25 0 0 0 4.50 0a2.25 2.25 0 0 0 -4.50 0zM318.98 244.25a2.25 2.25 0 0 0 4.50 0a2.25 2.25 0 0 0 -4.50 0zM319.26 245.20a2.25 2.25 0 0 0 4.50 0a2.25 2.25 0 0 0 -4.50 0zM319.55 243.89a2.25 2.25 0 0 0 4.50 0a2.25 2.25 0 0 0 -4.50 0zM319.84 244.84a2.25 2.25 0 0 0 4.50 0a2.25 2.25 0 0 0 -4.50 0zM320.12 246.70a2.25 2.25 0 0 0 4.50 0a2.25 2.25 0 0 0 -4.50 0zM320.40 247.63a2.25 2.25 0 0 0 4.50 0a2.25 2.25 0 0 0 -4.50 0zM320.68 245.51a2.25 2.25 0 0 0 4.50 0a2.25 2.25 0 0 0 -4.50 0zM320.96 247.62a2.25 2.25 0 0 0 4.50 0a2.25 2.25 0 0 0 -4.50 0zM321.24 247.66a2.25 2.25 0 0 0 4.50 0a2.25 2.25 0 0 0 -4.50 0zM321.51 247.93a2.25 2.25 0 0 0 4.50 0a2.25 2.25 0 0 0 -4.50 0zM321.79 247.70a2.25 2.25 0 0 0 4.50 0a2.25 2.25 0 0 0 -4.50 0zM322.06 247.22a2.25 2.25 0 0 0 4.50 0a2.25 2.25 0 0 0 -4.50 0zM322.33 246.63a2.25 2.25 0 0 0 4.50 0a2.25 2.25 0 0 0 -4.50 0zM322.60 248.82a2.25 2.25 0 0 0 4.50 0a2.25 2.25 0 0 0 -4.50 0zM322.87 248.25a2.25 2.25 0 0 0 4.50 0a2.25 2.25 0 0 0 -4.50 0zM323.14 248.43a2.25 2.25 0 0 0 4.50 0a2.25 2.25 0 0 0 -4.50 0zM323.40 250.10a2.25 2.25 0 0 0 4.50 0a2.25 2.25 0 0 0 -4.50 0zM323.67 249.24a2.25 2.25 0 0 0 4.50 0a2.25 2.25 0 0 0 -4.50 0zM323.93 248.53a2.25 2.25 0 0 0 4.50 0a2.25 2.25 0 0 0 -4.50 0zM324.19 248.88a2.25 2.25 0 0 0 4.50 0a2.25 2.25 0 0 0 -4.50 0zM324.45 247.88a2.25 2.25 0 0 0 4.50 0a2.25 2.25 0 0 0 -4.50 0zM324.71 248.76a2.25 2.25 0 0 0 4.50 0a2.25 2.25 0 0 0 -4.50 0zM324.97 247.96a2.25 2.25 0 0 0 4.50 0a2.25 2.25 0 0 0 -4.50 0zM325.23 247.82a2.25 2.25 0 0 0 4.50 0a2.25 2.25 0 0 0 -4.50 0zM325.48 248.28a2.25 2.25 0 0 0 4.50 0a2.25 2.25 0 0 0 -4.50 0zM325.74 250.02a2.25 2.25 0 0 0 4.50 0a2.25 2.25 0 0 0 -4.50 0zM325.99 248.70a2.25 2.25 0 0 0 4.50 0a2.25 2.25 0 0 0 -4.50 0zM326.25 249.27a2.25 2.25 0 0 0 4.50 0a2.25 2.25 0 0 0 -4.50 0zM326.50 252.09a2.25 2.25 0 0 0 4.50 0a2.25 2.25 0 0 0 -4.50 0zM326.75 249.82a2.25 2.25 0 0 0 4.50 0a2.25 2.25 0 0 0 -4.50 0zM326.99 251.15a2.25 2.25 0 0 0 4.50 0a2.25 2.25 0 0 0 -4.50 0zM327.24 251.39a2.25 2.25 0 0 0 4.50 0a2.25 2.25 0 0 0 -4.50 0zM327.49 249.73a2.25 2.25 0 0 0 4.50 0a2.25 2.25 0 0 0 -4.50 0zM327.73 249.30a2.25 2.25 0 0 0 4.50 0a2.25 2.25 0 0 0 -4.50 0zM327.98 252.31a2.25 2.25 0 0 0 4.50 0a2.25 2.25 0 0 0 -4.50 0zM328.22 250.99a2.25 2.25 0 0 0 4.50 0a2.25 2.25 0 0 0 -4.50 0zM328.46 249.44a2.25 2.25 0 0 0 4.50 0a2.25 2.25 0 0 0 -4.50 0zM328.70 248.59a2.25 2.25 0 0 0 4.50 0a2.25 2.25 0 0 0 -4.50 0zM328.94 251.20a2.25 2.25 0 0 0 4.50 0a2.25 2.25 0 0 0 -4.50 0zM329.18 251.13a2.25 2.25 0 0 0 4.50 0a2.25 2.25 0 0 0 -4.50 0zM329.42 250.17a2.25 2.25 0 0 0 4.50 0a2.25 2.25 0 0 0 -4.50 0zM329.66 251.14a2.25 2.25 0 0 0 4.50 0a2.25 2.25 0 0 0 -4.50 0zM329.89 250.32a2.25 2.25 0 0 0 4.50 0a2.25 2.25 0 0 0 -4.50 0zM330.13 251.64a2.25 2.25 0 0 0 4.50 0a2.25 2.25 0 0 0 -4.50 0zM330.36 250.62a2.25 2.25 0 0 0 4.50 0a2.25 2.25 0 0 0 -4.50 0zM330.59 251.40a2.25 2.25 0 0 0 4.50 0a2.25 2.25 0 0 0 -4.50 0zM330.82 250.84a2.25 2.25 0 0 0 4.50 0a2.25 2.25 0 0 0 -4.50 0zM331.05 250.88a2.25 2.25 0 0 0 4.50 0a2.25 2.25 0 0 0 -4.50 0zM331.28 250.73a2.25 2.25 0 0 0 4.50 0a2.25 2.25 0 0 0 -4.50 0zM331.51 251.84a2.25 2.25 0 0 0 4.50 0a2.25 2.25 0 0 0 -4.50 0zM331.74 250.49a2.25 2.25 0 0 0 4.50 0a2.25 2.25 0 0 0 -4.50 0zM331.96 252.06a2.25 2.25 0 0 0 4.50 0a2.25 2.25 0 0 0 -4.50 0zM332.19 251.41a2.25 2.25 0 0 0 4.50 0a2.25 2.25 0 0 0 -4.50 0zM332.41 251.95a2.25 2.25 0 0 0 4.50 0a2.25 2.25 0 0 0 -4.50 0zM333.08 252.00a2.25 2.25 0 0 0 4.50 0a2.25 2.25 0 0 0 -4.50 0zM333.30 252.71a2.25 2.25 0 0 0 4.50 0a2.25 2.25 0 0 0 -4.50 0zM333.74 252.57a2.25 2.25 0 0 0 4.50 0a2.25 2.25 0 0 0 -4.50 0zM333.96 251.84a2.25 2.25 0 0 0 4.50 0a2.25 2.25 0 0 0 -4.50 0z" fill="#00ffff"/>
<path clip-path="url(#c)" d="M66.05 7.2L326.5 252.5" stroke="#00ffff" stroke-width="0.95" fill="none"/>
<rect x="48.9" y="146.8" width="98.1" height="100.3" fill="#fff" stroke="#000" stroke-width="1"/>
<path d="M52 176.8H98.7" stroke="#ff0000" stroke-width="1.0" fill="none"/>
<path d="M73.5 174.6h4.5v4.5h-4.5z" fill="#ff0000"/>
<path d="M52 197.0H98.7" stroke="#00ff00" stroke-width="1.0" fill="none"/>
<path d="M73.2 194.8h5.1l-2.5 4.9z" fill="#00ff00"/>
<path d="M52 217.2H98.7" stroke="#0000ff" stroke-width="1.0" fill="none"/>
<path d="M73.2 219.4h5.1l-2.5 -4.9z" fill="#0000ff"/>
<path d="M52 237.2H98.7" stroke="#00ffff" stroke-width="1.0" fill="none"/>
<path d="M73.45 237.20a2.25 2.25 0 0 0 4.50 0a2.25 2.25 0 0 0 -4.50 0z" fill="#00ffff"/>
<g style="font-family:'Liberation Sans',sans-serif;fill:#000;filter:grayscale(1)">
<text transform="translate(126.40,163.20) scale(1.0,1.09)" font-size="15.1" text-anchor="middle">T</text>
<text transform="translate(122.35,183.70) scale(1.0,1.09)" font-size="15.1" text-anchor="start">1.0</text>
<text transform="translate(122.35,203.90) scale(1.0,1.09)" font-size="15.1" text-anchor="start">1.1</text>
<text transform="translate(122.35,224.10) scale(1.0,1.09)" font-size="15.1" text-anchor="start">1.2</text>
<text transform="translate(122.35,244.10) scale(1.0,1.09)" font-size="15.1" text-anchor="start">1.3</text>
<text transform="translate(45.10,270.00) scale(1.03,1.085)" font-size="14.5" text-anchor="middle">1</text>
<text transform="translate(167.33,270.00) scale(1.03,1.085)" font-size="14.5" text-anchor="middle">10</text>
<text transform="translate(289.56,270.00) scale(1.03,1.085)" font-size="14.5" text-anchor="middle">100</text>
<text transform="translate(207.60,284.80) scale(1.03,1.085)" font-size="14.5" text-anchor="middle">t</text>
<text transform="translate(12.80,132.00) rotate(-90) scale(1.03,1.085)" font-size="14.5" text-anchor="middle">C(t)</text>
<text transform="translate(36.30,13.80) scale(1.03,1.085)" font-size="14.5" text-anchor="end">10</text>
<text transform="translate(35.20,6.30) scale(1.07,1.085)" font-size="10.5" text-anchor="start">0</text>
<text transform="translate(32.00,83.43) scale(1.03,1.085)" font-size="14.5" text-anchor="end">10</text>
<text transform="translate(31.40,75.93) scale(1.07,1.085)" font-size="10.5" text-anchor="start">-1</text>
<text transform="translate(32.00,153.06) scale(1.03,1.085)" font-size="14.5" text-anchor="end">10</text>
<text transform="translate(31.40,145.56) scale(1.07,1.085)" font-size="10.5" text-anchor="start">-2</text>
<text transform="translate(32.00,222.69) scale(1.03,1.085)" font-size="14.5" text-anchor="end">10</text>
<text transform="translate(31.40,215.19) scale(1.07,1.085)" font-size="10.5" text-anchor="start">-3</text>
</g>
</svg>
</body></html>
